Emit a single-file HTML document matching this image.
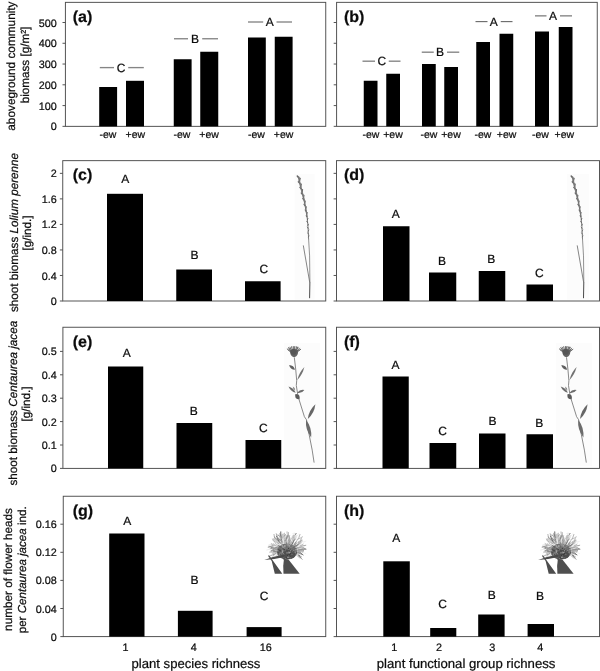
<!DOCTYPE html>
<html><head><meta charset="utf-8"><title>Figure</title>
<style>
html,body{margin:0;padding:0;background:#fff;}
body{width:600px;height:671px;overflow:hidden;font-family:"Liberation Sans", sans-serif;}
text{stroke:#0c0c0c;stroke-width:0.22px;}
svg{display:block;filter:grayscale(1);font-family:"Liberation Sans", sans-serif;fill:#0c0c0c;text-rendering:geometricPrecision;}
</style></head><body>
<svg width="600" height="671" viewBox="0 0 600 671">
<rect x="0" y="0" width="600" height="671" fill="#fff"/>
<rect x="65.4" y="2.35" width="260.35" height="124.0" fill="none" stroke="#4c4c4c" stroke-width="0.95"/>
<line x1="62.50000000000001" y1="126.35" x2="65.4" y2="126.35" stroke="#4c4c4c" stroke-width="0.95"/>
<text x="56.70" y="130.40" font-size="10.8" text-anchor="end" font-weight="normal" >0</text>
<line x1="62.50000000000001" y1="105.58" x2="65.4" y2="105.58" stroke="#4c4c4c" stroke-width="0.95"/>
<text x="56.70" y="109.63" font-size="10.8" text-anchor="end" font-weight="normal" >100</text>
<line x1="62.50000000000001" y1="84.81" x2="65.4" y2="84.81" stroke="#4c4c4c" stroke-width="0.95"/>
<text x="56.70" y="88.86" font-size="10.8" text-anchor="end" font-weight="normal" >200</text>
<line x1="62.50000000000001" y1="64.03999999999999" x2="65.4" y2="64.03999999999999" stroke="#4c4c4c" stroke-width="0.95"/>
<text x="56.70" y="68.09" font-size="10.8" text-anchor="end" font-weight="normal" >300</text>
<line x1="62.50000000000001" y1="43.269999999999996" x2="65.4" y2="43.269999999999996" stroke="#4c4c4c" stroke-width="0.95"/>
<text x="56.70" y="47.32" font-size="10.8" text-anchor="end" font-weight="normal" >400</text>
<line x1="62.50000000000001" y1="22.5" x2="65.4" y2="22.5" stroke="#4c4c4c" stroke-width="0.95"/>
<text x="56.70" y="26.55" font-size="10.8" text-anchor="end" font-weight="normal" >500</text>
<text x="72.70" y="21.65" font-size="16" text-anchor="start" font-weight="bold" >(a)</text>
<rect x="99.20" y="87.00" width="17.90" height="39.35" fill="#000"/>
<rect x="126.00" y="80.80" width="18.00" height="45.55" fill="#000"/>
<rect x="173.75" y="59.25" width="17.85" height="67.10" fill="#000"/>
<rect x="200.25" y="51.75" width="18.00" height="74.60" fill="#000"/>
<rect x="248.00" y="37.50" width="17.80" height="88.85" fill="#000"/>
<rect x="274.75" y="36.75" width="17.85" height="89.60" fill="#000"/>
<text x="107.90" y="138.00" font-size="10.5" text-anchor="middle" font-weight="normal" >-ew</text>
<text x="135.30" y="138.00" font-size="10.5" text-anchor="middle" font-weight="normal" >+ew</text>
<text x="181.90" y="138.00" font-size="10.5" text-anchor="middle" font-weight="normal" >-ew</text>
<text x="209.10" y="138.00" font-size="10.5" text-anchor="middle" font-weight="normal" >+ew</text>
<text x="256.40" y="138.00" font-size="10.5" text-anchor="middle" font-weight="normal" >-ew</text>
<text x="283.60" y="138.00" font-size="10.5" text-anchor="middle" font-weight="normal" >+ew</text>
<text x="121.00" y="71.90" font-size="12" text-anchor="middle" font-weight="normal" >C</text>
<line x1="99.8" y1="67.6" x2="114" y2="67.6" stroke="#858585" stroke-width="1.35"/>
<line x1="128.2" y1="67.6" x2="143.8" y2="67.6" stroke="#858585" stroke-width="1.35"/>
<text x="195.00" y="43.05" font-size="12" text-anchor="middle" font-weight="normal" >B</text>
<line x1="174" y1="38.75" x2="188" y2="38.75" stroke="#858585" stroke-width="1.35"/>
<line x1="202.2" y1="38.75" x2="218" y2="38.75" stroke="#858585" stroke-width="1.35"/>
<text x="269.75" y="26.30" font-size="12" text-anchor="middle" font-weight="normal" >A</text>
<line x1="248" y1="22.0" x2="263.2" y2="22.0" stroke="#858585" stroke-width="1.35"/>
<line x1="276.5" y1="22.0" x2="292" y2="22.0" stroke="#858585" stroke-width="1.35"/>
<rect x="336.6" y="2.35" width="260.65" height="124.0" fill="none" stroke="#4c4c4c" stroke-width="0.95"/>
<line x1="333.70000000000005" y1="126.35" x2="336.6" y2="126.35" stroke="#4c4c4c" stroke-width="0.95"/>
<line x1="333.70000000000005" y1="105.58" x2="336.6" y2="105.58" stroke="#4c4c4c" stroke-width="0.95"/>
<line x1="333.70000000000005" y1="84.81" x2="336.6" y2="84.81" stroke="#4c4c4c" stroke-width="0.95"/>
<line x1="333.70000000000005" y1="64.03999999999999" x2="336.6" y2="64.03999999999999" stroke="#4c4c4c" stroke-width="0.95"/>
<line x1="333.70000000000005" y1="43.269999999999996" x2="336.6" y2="43.269999999999996" stroke="#4c4c4c" stroke-width="0.95"/>
<line x1="333.70000000000005" y1="22.5" x2="336.6" y2="22.5" stroke="#4c4c4c" stroke-width="0.95"/>
<text x="343.90" y="21.65" font-size="16" text-anchor="start" font-weight="bold" >(b)</text>
<rect x="363.75" y="80.75" width="13.75" height="45.60" fill="#000"/>
<rect x="386.25" y="73.75" width="13.75" height="52.60" fill="#000"/>
<rect x="422.00" y="64.00" width="13.75" height="62.35" fill="#000"/>
<rect x="444.25" y="67.00" width="13.75" height="59.35" fill="#000"/>
<rect x="476.25" y="42.00" width="13.75" height="84.35" fill="#000"/>
<rect x="499.50" y="33.75" width="13.75" height="92.60" fill="#000"/>
<rect x="535.00" y="31.50" width="14.00" height="94.85" fill="#000"/>
<rect x="558.75" y="27.00" width="13.75" height="99.35" fill="#000"/>
<text x="371.00" y="138.00" font-size="10.5" text-anchor="middle" font-weight="normal" >-ew</text>
<text x="393.00" y="138.00" font-size="10.5" text-anchor="middle" font-weight="normal" >+ew</text>
<text x="429.00" y="138.00" font-size="10.5" text-anchor="middle" font-weight="normal" >-ew</text>
<text x="451.00" y="138.00" font-size="10.5" text-anchor="middle" font-weight="normal" >+ew</text>
<text x="483.00" y="138.00" font-size="10.5" text-anchor="middle" font-weight="normal" >-ew</text>
<text x="506.60" y="138.00" font-size="10.5" text-anchor="middle" font-weight="normal" >+ew</text>
<text x="540.40" y="138.00" font-size="10.5" text-anchor="middle" font-weight="normal" >-ew</text>
<text x="564.40" y="138.00" font-size="10.5" text-anchor="middle" font-weight="normal" >+ew</text>
<text x="381.75" y="65.05" font-size="12" text-anchor="middle" font-weight="normal" >C</text>
<line x1="362.5" y1="61.15" x2="375" y2="61.15" stroke="#585858" stroke-width="1.0"/>
<line x1="388.75" y1="61.15" x2="400.5" y2="61.15" stroke="#585858" stroke-width="1.0"/>
<text x="440.00" y="56.05" font-size="12" text-anchor="middle" font-weight="normal" >B</text>
<line x1="421.75" y1="52.15" x2="433.75" y2="52.15" stroke="#585858" stroke-width="1.0"/>
<line x1="447" y1="52.15" x2="459.25" y2="52.15" stroke="#585858" stroke-width="1.0"/>
<text x="493.75" y="25.55" font-size="12" text-anchor="middle" font-weight="normal" >A</text>
<line x1="475.5" y1="21.65" x2="487.5" y2="21.65" stroke="#585858" stroke-width="1.0"/>
<line x1="500.75" y1="21.65" x2="512.5" y2="21.65" stroke="#585858" stroke-width="1.0"/>
<text x="553.00" y="19.80" font-size="12" text-anchor="middle" font-weight="normal" >A</text>
<line x1="535" y1="15.9" x2="546.5" y2="15.9" stroke="#585858" stroke-width="1.0"/>
<line x1="560" y1="15.9" x2="572" y2="15.9" stroke="#585858" stroke-width="1.0"/>
<rect x="62.75" y="160.65" width="263.0" height="140.35" fill="none" stroke="#4c4c4c" stroke-width="0.95"/>
<line x1="59.85" y1="301.0" x2="62.75" y2="301.0" stroke="#4c4c4c" stroke-width="0.95"/>
<text x="56.70" y="305.05" font-size="10.8" text-anchor="end" font-weight="normal" >0</text>
<line x1="59.85" y1="275.47" x2="62.75" y2="275.47" stroke="#4c4c4c" stroke-width="0.95"/>
<text x="56.70" y="279.52" font-size="10.8" text-anchor="end" font-weight="normal" >0.4</text>
<line x1="59.85" y1="249.94" x2="62.75" y2="249.94" stroke="#4c4c4c" stroke-width="0.95"/>
<text x="56.70" y="253.99" font-size="10.8" text-anchor="end" font-weight="normal" >0.8</text>
<line x1="59.85" y1="224.41" x2="62.75" y2="224.41" stroke="#4c4c4c" stroke-width="0.95"/>
<text x="56.70" y="228.46" font-size="10.8" text-anchor="end" font-weight="normal" >1.2</text>
<line x1="59.85" y1="198.88" x2="62.75" y2="198.88" stroke="#4c4c4c" stroke-width="0.95"/>
<text x="56.70" y="202.93" font-size="10.8" text-anchor="end" font-weight="normal" >1.6</text>
<line x1="59.85" y1="173.35" x2="62.75" y2="173.35" stroke="#4c4c4c" stroke-width="0.95"/>
<text x="56.70" y="177.40" font-size="10.8" text-anchor="end" font-weight="normal" >2</text>
<text x="72.70" y="179.95" font-size="16" text-anchor="start" font-weight="bold" >(c)</text>
<rect x="107.00" y="193.80" width="36.00" height="107.20" fill="#000"/>
<rect x="176.25" y="269.50" width="35.75" height="31.50" fill="#000"/>
<rect x="245.00" y="281.25" width="35.60" height="19.75" fill="#000"/>
<text x="125.20" y="183.20" font-size="12" text-anchor="middle" font-weight="normal" >A</text>
<text x="194.50" y="259.10" font-size="12" text-anchor="middle" font-weight="normal" >B</text>
<text x="263.75" y="272.60" font-size="12" text-anchor="middle" font-weight="normal" >C</text>
<rect x="336.5" y="160.65" width="263.0" height="140.35" fill="none" stroke="#4c4c4c" stroke-width="0.95"/>
<line x1="333.6" y1="301.0" x2="336.5" y2="301.0" stroke="#4c4c4c" stroke-width="0.95"/>
<line x1="333.6" y1="275.47" x2="336.5" y2="275.47" stroke="#4c4c4c" stroke-width="0.95"/>
<line x1="333.6" y1="249.94" x2="336.5" y2="249.94" stroke="#4c4c4c" stroke-width="0.95"/>
<line x1="333.6" y1="224.41" x2="336.5" y2="224.41" stroke="#4c4c4c" stroke-width="0.95"/>
<line x1="333.6" y1="198.88" x2="336.5" y2="198.88" stroke="#4c4c4c" stroke-width="0.95"/>
<line x1="333.6" y1="173.35" x2="336.5" y2="173.35" stroke="#4c4c4c" stroke-width="0.95"/>
<text x="343.90" y="179.95" font-size="16" text-anchor="start" font-weight="bold" >(d)</text>
<rect x="383.00" y="226.25" width="26.50" height="74.75" fill="#000"/>
<rect x="429.00" y="272.50" width="27.25" height="28.50" fill="#000"/>
<rect x="478.75" y="271.00" width="26.50" height="30.00" fill="#000"/>
<rect x="526.50" y="284.50" width="26.50" height="16.50" fill="#000"/>
<text x="395.75" y="217.85" font-size="12" text-anchor="middle" font-weight="normal" >A</text>
<text x="442.00" y="264.85" font-size="12" text-anchor="middle" font-weight="normal" >B</text>
<text x="491.25" y="262.85" font-size="12" text-anchor="middle" font-weight="normal" >B</text>
<text x="539.25" y="277.35" font-size="12" text-anchor="middle" font-weight="normal" >C</text>
<rect x="62.9" y="327.25" width="262.85" height="141.14999999999998" fill="none" stroke="#4c4c4c" stroke-width="0.95"/>
<line x1="60.0" y1="468.4" x2="62.9" y2="468.4" stroke="#4c4c4c" stroke-width="0.95"/>
<text x="56.70" y="472.45" font-size="10.8" text-anchor="end" font-weight="normal" >0</text>
<line x1="60.0" y1="445.0" x2="62.9" y2="445.0" stroke="#4c4c4c" stroke-width="0.95"/>
<text x="56.70" y="449.05" font-size="10.8" text-anchor="end" font-weight="normal" >0.1</text>
<line x1="60.0" y1="421.59999999999997" x2="62.9" y2="421.59999999999997" stroke="#4c4c4c" stroke-width="0.95"/>
<text x="56.70" y="425.65" font-size="10.8" text-anchor="end" font-weight="normal" >0.2</text>
<line x1="60.0" y1="398.2" x2="62.9" y2="398.2" stroke="#4c4c4c" stroke-width="0.95"/>
<text x="56.70" y="402.25" font-size="10.8" text-anchor="end" font-weight="normal" >0.3</text>
<line x1="60.0" y1="374.79999999999995" x2="62.9" y2="374.79999999999995" stroke="#4c4c4c" stroke-width="0.95"/>
<text x="56.70" y="378.85" font-size="10.8" text-anchor="end" font-weight="normal" >0.4</text>
<line x1="60.0" y1="351.4" x2="62.9" y2="351.4" stroke="#4c4c4c" stroke-width="0.95"/>
<text x="56.70" y="355.45" font-size="10.8" text-anchor="end" font-weight="normal" >0.5</text>
<text x="72.70" y="346.95" font-size="16" text-anchor="start" font-weight="bold" >(e)</text>
<rect x="108.00" y="366.50" width="35.25" height="101.90" fill="#000"/>
<rect x="176.50" y="423.00" width="35.75" height="45.40" fill="#000"/>
<rect x="245.50" y="440.00" width="35.75" height="28.40" fill="#000"/>
<text x="126.75" y="357.35" font-size="12" text-anchor="middle" font-weight="normal" >A</text>
<text x="193.75" y="414.85" font-size="12" text-anchor="middle" font-weight="normal" >B</text>
<text x="263.25" y="431.85" font-size="12" text-anchor="middle" font-weight="normal" >C</text>
<rect x="336.5" y="327.25" width="263.0" height="141.14999999999998" fill="none" stroke="#4c4c4c" stroke-width="0.95"/>
<line x1="333.6" y1="468.4" x2="336.5" y2="468.4" stroke="#4c4c4c" stroke-width="0.95"/>
<line x1="333.6" y1="445.0" x2="336.5" y2="445.0" stroke="#4c4c4c" stroke-width="0.95"/>
<line x1="333.6" y1="421.59999999999997" x2="336.5" y2="421.59999999999997" stroke="#4c4c4c" stroke-width="0.95"/>
<line x1="333.6" y1="398.2" x2="336.5" y2="398.2" stroke="#4c4c4c" stroke-width="0.95"/>
<line x1="333.6" y1="374.79999999999995" x2="336.5" y2="374.79999999999995" stroke="#4c4c4c" stroke-width="0.95"/>
<line x1="333.6" y1="351.4" x2="336.5" y2="351.4" stroke="#4c4c4c" stroke-width="0.95"/>
<text x="343.90" y="346.95" font-size="16" text-anchor="start" font-weight="bold" >(f)</text>
<rect x="382.50" y="376.50" width="26.25" height="91.90" fill="#000"/>
<rect x="429.50" y="443.00" width="26.75" height="25.40" fill="#000"/>
<rect x="479.00" y="433.50" width="26.50" height="34.90" fill="#000"/>
<rect x="526.50" y="434.25" width="26.50" height="34.15" fill="#000"/>
<text x="395.50" y="368.60" font-size="12" text-anchor="middle" font-weight="normal" >A</text>
<text x="442.50" y="434.85" font-size="12" text-anchor="middle" font-weight="normal" >C</text>
<text x="492.50" y="424.85" font-size="12" text-anchor="middle" font-weight="normal" >B</text>
<text x="539.25" y="426.60" font-size="12" text-anchor="middle" font-weight="normal" >B</text>
<rect x="63.25" y="496.25" width="262.5" height="140.35000000000002" fill="none" stroke="#4c4c4c" stroke-width="0.95"/>
<line x1="60.35" y1="636.6" x2="63.25" y2="636.6" stroke="#4c4c4c" stroke-width="0.95"/>
<text x="56.70" y="640.65" font-size="10.8" text-anchor="end" font-weight="normal" >0</text>
<line x1="60.35" y1="608.5" x2="63.25" y2="608.5" stroke="#4c4c4c" stroke-width="0.95"/>
<text x="56.70" y="612.55" font-size="10.8" text-anchor="end" font-weight="normal" >0.04</text>
<line x1="60.35" y1="580.4" x2="63.25" y2="580.4" stroke="#4c4c4c" stroke-width="0.95"/>
<text x="56.70" y="584.45" font-size="10.8" text-anchor="end" font-weight="normal" >0.08</text>
<line x1="60.35" y1="552.3000000000001" x2="63.25" y2="552.3000000000001" stroke="#4c4c4c" stroke-width="0.95"/>
<text x="56.70" y="556.35" font-size="10.8" text-anchor="end" font-weight="normal" >0.12</text>
<line x1="60.35" y1="524.2" x2="63.25" y2="524.2" stroke="#4c4c4c" stroke-width="0.95"/>
<text x="56.70" y="528.25" font-size="10.8" text-anchor="end" font-weight="normal" >0.16</text>
<text x="72.70" y="516.45" font-size="16" text-anchor="start" font-weight="bold" >(g)</text>
<rect x="109.20" y="533.50" width="35.30" height="103.10" fill="#000"/>
<rect x="177.90" y="610.80" width="34.70" height="25.80" fill="#000"/>
<rect x="246.60" y="627.10" width="35.00" height="9.50" fill="#000"/>
<text x="127.30" y="525.30" font-size="12" text-anchor="middle" font-weight="normal" >A</text>
<text x="194.50" y="583.60" font-size="12" text-anchor="middle" font-weight="normal" >B</text>
<text x="264.00" y="600.30" font-size="12" text-anchor="middle" font-weight="normal" >C</text>
<text x="125.60" y="651.40" font-size="10.8" text-anchor="middle" font-weight="normal" >1</text>
<text x="193.70" y="651.40" font-size="10.8" text-anchor="middle" font-weight="normal" >4</text>
<text x="265.80" y="651.40" font-size="10.8" text-anchor="middle" font-weight="normal" >16</text>
<text x="196.00" y="667.50" font-size="13.1" text-anchor="middle" font-weight="normal" >plant species richness</text>
<rect x="336.5" y="496.25" width="263.0" height="140.35000000000002" fill="none" stroke="#4c4c4c" stroke-width="0.95"/>
<line x1="333.6" y1="636.6" x2="336.5" y2="636.6" stroke="#4c4c4c" stroke-width="0.95"/>
<line x1="333.6" y1="608.5" x2="336.5" y2="608.5" stroke="#4c4c4c" stroke-width="0.95"/>
<line x1="333.6" y1="580.4" x2="336.5" y2="580.4" stroke="#4c4c4c" stroke-width="0.95"/>
<line x1="333.6" y1="552.3000000000001" x2="336.5" y2="552.3000000000001" stroke="#4c4c4c" stroke-width="0.95"/>
<line x1="333.6" y1="524.2" x2="336.5" y2="524.2" stroke="#4c4c4c" stroke-width="0.95"/>
<text x="343.90" y="516.45" font-size="16" text-anchor="start" font-weight="bold" >(h)</text>
<rect x="383.30" y="561.30" width="26.50" height="75.30" fill="#000"/>
<rect x="430.20" y="628.00" width="26.10" height="8.60" fill="#000"/>
<rect x="478.20" y="614.50" width="26.40" height="22.10" fill="#000"/>
<rect x="527.60" y="624.00" width="26.40" height="12.60" fill="#000"/>
<text x="396.30" y="541.90" font-size="12" text-anchor="middle" font-weight="normal" >A</text>
<text x="442.50" y="608.00" font-size="12" text-anchor="middle" font-weight="normal" >C</text>
<text x="491.70" y="598.60" font-size="12" text-anchor="middle" font-weight="normal" >B</text>
<text x="540.00" y="600.30" font-size="12" text-anchor="middle" font-weight="normal" >B</text>
<text x="394.30" y="651.40" font-size="10.8" text-anchor="middle" font-weight="normal" >1</text>
<text x="439.00" y="651.40" font-size="10.8" text-anchor="middle" font-weight="normal" >2</text>
<text x="492.20" y="651.40" font-size="10.8" text-anchor="middle" font-weight="normal" >3</text>
<text x="540.20" y="651.40" font-size="10.8" text-anchor="middle" font-weight="normal" >4</text>
<text x="466.10" y="667.50" font-size="13.18" text-anchor="middle" font-weight="normal" >plant functional group richness</text>
<text transform="translate(15.00,66.10) rotate(-90)" font-size="11.8" text-anchor="middle">aboveground community</text>
<text transform="translate(29.40,65.00) rotate(-90)" font-size="11.7" text-anchor="middle">biomass [g/m²]</text>
<text transform="translate(17.70,232.50) rotate(-90)" font-size="11.7" text-anchor="middle">shoot biomass <tspan font-style="italic">Lolium perenne</tspan></text>
<text transform="translate(30.60,233.00) rotate(-90)" font-size="11.6" text-anchor="middle">[g/ind.]</text>
<text transform="translate(16.80,403.20) rotate(-90)" font-size="11.73" text-anchor="middle">shoot biomass <tspan font-style="italic">Centaurea jacea</tspan></text>
<text transform="translate(30.20,404.00) rotate(-90)" font-size="11.6" text-anchor="middle">[g/ind.]</text>
<text transform="translate(11.50,569.50) rotate(-90)" font-size="11.75" text-anchor="middle">number of flower heads</text>
<text transform="translate(26.20,569.80) rotate(-90)" font-size="11.6" text-anchor="middle">per <tspan font-style="italic">Centaurea jacea</tspan> ind.</text>
<rect x="567" y="174" width="22" height="125.5" fill="#fcfcfc"/>
<rect x="294.6" y="174" width="20.0" height="125.5" fill="#fcfcfc"/>
<rect x="556" y="343" width="36" height="123" fill="#fcfcfc"/>
<rect x="283.8" y="343" width="36.0" height="123" fill="#fcfcfc"/>
<defs><filter id="soft2" x="-30%" y="-5%" width="160%" height="110%"><feGaussianBlur stdDeviation="0.3"/></filter></defs>
<g filter="url(#soft2)"><path d="M572.6,177.2 L573.6,182.5 L575.7,190.9 L577.8,199.2 L579.3,206.6 L580.9,216.0 L581.9,226.4 L582.5,238.9" stroke="#6e6e6e" stroke-width="0.9" fill="none" stroke-linecap="round"/>
<path d="M582.5,238.9 L583.5,255.9 L583.8,282.0" stroke="#777" stroke-width="0.8" fill="none"/>
<path d="M583.8,282.0 L583.5,298.2" stroke="#4a4a4a" stroke-width="1" fill="none"/>
<path d="M577.2,245.4 L583.6,282.2" stroke="#666" stroke-width="0.8" fill="none"/>
<path d="M572.8,178.0 L571.2,176.0" stroke="#666" stroke-width="1.50" fill="none" stroke-linecap="round"/>
<path d="M573.3,180.8 L574.0,178.4" stroke="#666" stroke-width="1.47" fill="none" stroke-linecap="round"/>
<path d="M573.9,183.6 L572.3,181.8" stroke="#666" stroke-width="1.43" fill="none" stroke-linecap="round"/>
<path d="M574.6,186.4 L575.1,184.1" stroke="#666" stroke-width="1.40" fill="none" stroke-linecap="round"/>
<path d="M575.3,189.1 L573.8,187.4" stroke="#666" stroke-width="1.36" fill="none" stroke-linecap="round"/>
<path d="M576.0,191.9 L576.4,189.7" stroke="#666" stroke-width="1.33" fill="none" stroke-linecap="round"/>
<path d="M576.7,194.7 L575.2,193.0" stroke="#666" stroke-width="1.30" fill="none" stroke-linecap="round"/>
<path d="M577.4,197.4 L577.8,195.4" stroke="#666" stroke-width="1.26" fill="none" stroke-linecap="round"/>
<path d="M578.0,200.2 L576.7,198.6" stroke="#666" stroke-width="1.23" fill="none" stroke-linecap="round"/>
<path d="M578.6,203.0 L579.1,201.1" stroke="#666" stroke-width="1.19" fill="none" stroke-linecap="round"/>
<path d="M579.1,205.8 L577.9,204.3" stroke="#666" stroke-width="1.16" fill="none" stroke-linecap="round"/>
<path d="M579.6,208.6 L580.2,206.8" stroke="#666" stroke-width="1.12" fill="none" stroke-linecap="round"/>
<path d="M580.1,211.4 L579.1,209.9" stroke="#666" stroke-width="1.09" fill="none" stroke-linecap="round"/>
<path d="M580.6,214.2 L581.1,212.5" stroke="#666" stroke-width="1.06" fill="none" stroke-linecap="round"/>
<path d="M581.0,217.0 L580.1,215.6" stroke="#666" stroke-width="1.02" fill="none" stroke-linecap="round"/>
<path d="M581.3,219.9 L581.8,218.4" stroke="#666" stroke-width="0.99" fill="none" stroke-linecap="round"/>
<path d="M581.5,222.7 L580.7,221.4" stroke="#666" stroke-width="0.95" fill="none" stroke-linecap="round"/>
<path d="M581.8,225.5 L582.3,224.2" stroke="#666" stroke-width="0.92" fill="none" stroke-linecap="round"/>
<path d="M582.0,228.4 L581.3,227.1" stroke="#666" stroke-width="0.89" fill="none" stroke-linecap="round"/>
<path d="M582.1,231.2 L582.7,230.0" stroke="#666" stroke-width="0.85" fill="none" stroke-linecap="round"/>
<path d="M582.3,234.1 L581.6,232.9" stroke="#666" stroke-width="0.82" fill="none" stroke-linecap="round"/>
<path d="M582.4,236.9 L582.9,235.8" stroke="#666" stroke-width="0.78" fill="none" stroke-linecap="round"/>
<path d="M572.6,177.2 L573.6,182.5 L575.7,190.9 L577.8,199.2" stroke="#7c7c7c" stroke-width="1.7" fill="none" stroke-linecap="round" opacity="0.7"/>
<path d="M577.8,199.2 L579.3,206.6 L580.9,216.0" stroke="#777" stroke-width="1.3" fill="none" stroke-linecap="round" opacity="0.7"/></g>
<g transform="translate(-273.9,0)" filter="url(#soft2)"><path d="M572.6,177.2 L573.6,182.5 L575.7,190.9 L577.8,199.2 L579.3,206.6 L580.9,216.0 L581.9,226.4 L582.5,238.9" stroke="#6e6e6e" stroke-width="0.9" fill="none" stroke-linecap="round"/>
<path d="M582.5,238.9 L583.5,255.9 L583.8,282.0" stroke="#777" stroke-width="0.8" fill="none"/>
<path d="M583.8,282.0 L583.5,298.2" stroke="#4a4a4a" stroke-width="1" fill="none"/>
<path d="M577.2,245.4 L583.6,282.2" stroke="#666" stroke-width="0.8" fill="none"/>
<path d="M572.8,178.0 L571.2,176.0" stroke="#666" stroke-width="1.50" fill="none" stroke-linecap="round"/>
<path d="M573.3,180.8 L574.0,178.4" stroke="#666" stroke-width="1.47" fill="none" stroke-linecap="round"/>
<path d="M573.9,183.6 L572.3,181.8" stroke="#666" stroke-width="1.43" fill="none" stroke-linecap="round"/>
<path d="M574.6,186.4 L575.1,184.1" stroke="#666" stroke-width="1.40" fill="none" stroke-linecap="round"/>
<path d="M575.3,189.1 L573.8,187.4" stroke="#666" stroke-width="1.36" fill="none" stroke-linecap="round"/>
<path d="M576.0,191.9 L576.4,189.7" stroke="#666" stroke-width="1.33" fill="none" stroke-linecap="round"/>
<path d="M576.7,194.7 L575.2,193.0" stroke="#666" stroke-width="1.30" fill="none" stroke-linecap="round"/>
<path d="M577.4,197.4 L577.8,195.4" stroke="#666" stroke-width="1.26" fill="none" stroke-linecap="round"/>
<path d="M578.0,200.2 L576.7,198.6" stroke="#666" stroke-width="1.23" fill="none" stroke-linecap="round"/>
<path d="M578.6,203.0 L579.1,201.1" stroke="#666" stroke-width="1.19" fill="none" stroke-linecap="round"/>
<path d="M579.1,205.8 L577.9,204.3" stroke="#666" stroke-width="1.16" fill="none" stroke-linecap="round"/>
<path d="M579.6,208.6 L580.2,206.8" stroke="#666" stroke-width="1.12" fill="none" stroke-linecap="round"/>
<path d="M580.1,211.4 L579.1,209.9" stroke="#666" stroke-width="1.09" fill="none" stroke-linecap="round"/>
<path d="M580.6,214.2 L581.1,212.5" stroke="#666" stroke-width="1.06" fill="none" stroke-linecap="round"/>
<path d="M581.0,217.0 L580.1,215.6" stroke="#666" stroke-width="1.02" fill="none" stroke-linecap="round"/>
<path d="M581.3,219.9 L581.8,218.4" stroke="#666" stroke-width="0.99" fill="none" stroke-linecap="round"/>
<path d="M581.5,222.7 L580.7,221.4" stroke="#666" stroke-width="0.95" fill="none" stroke-linecap="round"/>
<path d="M581.8,225.5 L582.3,224.2" stroke="#666" stroke-width="0.92" fill="none" stroke-linecap="round"/>
<path d="M582.0,228.4 L581.3,227.1" stroke="#666" stroke-width="0.89" fill="none" stroke-linecap="round"/>
<path d="M582.1,231.2 L582.7,230.0" stroke="#666" stroke-width="0.85" fill="none" stroke-linecap="round"/>
<path d="M582.3,234.1 L581.6,232.9" stroke="#666" stroke-width="0.82" fill="none" stroke-linecap="round"/>
<path d="M582.4,236.9 L582.9,235.8" stroke="#666" stroke-width="0.78" fill="none" stroke-linecap="round"/>
<path d="M572.6,177.2 L573.6,182.5 L575.7,190.9 L577.8,199.2" stroke="#7c7c7c" stroke-width="1.7" fill="none" stroke-linecap="round" opacity="0.7"/>
<path d="M577.8,199.2 L579.3,206.6 L580.9,216.0" stroke="#777" stroke-width="1.3" fill="none" stroke-linecap="round" opacity="0.7"/></g>
<g filter="url(#soft2)"><path d="M566.5,357.4 L567.9,369.0 L568.9,380.7 L568.5,385.5 L569.9,394.3 L571.4,400.0 L576.6,416.7 L578.7,419.8 L581.3,434.4 L584.4,450.1 L586.3,462.6" stroke="#747474" stroke-width="0.85" fill="none" stroke-linejoin="round"/>
<path d="M561.3,364.9 Q562.4,369.6 567.2,369.8 Q566.1,365.1 561.3,364.9Z" fill="#5e5e5e" stroke="none"/>
<path d="M569.4,380.2 Q574.8,374.6 576.6,367.1 Q571.2,372.7 569.4,380.2Z" fill="#727272" stroke="none"/>
<path d="M560.7,386.5 Q562.8,391.4 567.9,392.8 Q565.8,387.9 560.7,386.5Z" fill="#6c6c6c" stroke="none"/>
<path d="M565.0,386.5 Q564.8,389.3 567.4,390.4 Q567.6,387.6 565.0,386.5Z" fill="#8a8a8a" stroke="none"/>
<path d="M569.4,392.8 Q573.9,393.7 576.6,389.9 Q572.1,389.0 569.4,392.8Z" fill="#6c6c6c" stroke="none"/>
<path d="M567.6,394.0 Q566.2,399.2 571.6,399.3 Q573.0,394.1 567.6,394.0Z" fill="#5a5a5a" stroke="none"/>
<path d="M580.0,419.0 Q586.6,413.1 587.6,404.2 Q581.0,410.1 580.0,419.0Z" fill="#666" stroke="none"/>
<path d="M578.2,419.8 Q577.3,429.7 583.4,437.6 Q584.3,427.7 578.2,419.8Z" fill="#6c6c6c" stroke="none"/>
<path d="M563.0,352.0 L559.4,348.9" stroke="#6c6c6c" stroke-width="1.0" fill="none" stroke-linecap="round"/>
<path d="M563.7,352.0 L560.8,347.6" stroke="#6c6c6c" stroke-width="1.0" fill="none" stroke-linecap="round"/>
<path d="M564.3,352.0 L562.2,347.2" stroke="#6c6c6c" stroke-width="1.0" fill="none" stroke-linecap="round"/>
<path d="M565.0,352.0 L563.7,346.7" stroke="#6c6c6c" stroke-width="1.0" fill="none" stroke-linecap="round"/>
<path d="M565.7,352.0 L565.4,346.5" stroke="#6c6c6c" stroke-width="1.0" fill="none" stroke-linecap="round"/>
<path d="M566.5,352.0 L567.1,346.5" stroke="#6c6c6c" stroke-width="1.0" fill="none" stroke-linecap="round"/>
<path d="M567.3,352.0 L568.8,346.7" stroke="#6c6c6c" stroke-width="1.0" fill="none" stroke-linecap="round"/>
<path d="M567.9,352.0 L570.3,347.3" stroke="#6c6c6c" stroke-width="1.0" fill="none" stroke-linecap="round"/>
<path d="M568.5,352.0 L571.6,348.2" stroke="#6c6c6c" stroke-width="1.0" fill="none" stroke-linecap="round"/>
<path d="M569.1,352.0 L572.9,349.3" stroke="#6c6c6c" stroke-width="1.0" fill="none" stroke-linecap="round"/>
<path d="M563.9,352.0 L561.4,348.6" stroke="#6c6c6c" stroke-width="1.0" fill="none" stroke-linecap="round"/>
<path d="M566.1,352.0 L566.3,346.9" stroke="#6c6c6c" stroke-width="1.0" fill="none" stroke-linecap="round"/>
<path d="M567.7,352.0 L569.7,347.2" stroke="#6c6c6c" stroke-width="1.0" fill="none" stroke-linecap="round"/>
<path d="M568.8,352.0 L572.2,349.8" stroke="#6c6c6c" stroke-width="1.0" fill="none" stroke-linecap="round"/>
<path d="M563.4,352.0 L560.2,349.9" stroke="#6c6c6c" stroke-width="1.0" fill="none" stroke-linecap="round"/>
<path d="M562.2,350.2 Q562.0,356.4 566.3,357.3 Q570.6,356.4 570.4,350.2 Q566.3,348.4 562.2,350.2Z" fill="#626262"/>
<ellipse cx="565.8" cy="351.8" rx="3.0" ry="2.9" fill="#545454"/></g>
<g transform="translate(-272.2,0)" filter="url(#soft2)"><path d="M566.5,357.4 L567.9,369.0 L568.9,380.7 L568.5,385.5 L569.9,394.3 L571.4,400.0 L576.6,416.7 L578.7,419.8 L581.3,434.4 L584.4,450.1 L586.3,462.6" stroke="#747474" stroke-width="0.85" fill="none" stroke-linejoin="round"/>
<path d="M561.3,364.9 Q562.4,369.6 567.2,369.8 Q566.1,365.1 561.3,364.9Z" fill="#5e5e5e" stroke="none"/>
<path d="M569.4,380.2 Q574.8,374.6 576.6,367.1 Q571.2,372.7 569.4,380.2Z" fill="#727272" stroke="none"/>
<path d="M560.7,386.5 Q562.8,391.4 567.9,392.8 Q565.8,387.9 560.7,386.5Z" fill="#6c6c6c" stroke="none"/>
<path d="M565.0,386.5 Q564.8,389.3 567.4,390.4 Q567.6,387.6 565.0,386.5Z" fill="#8a8a8a" stroke="none"/>
<path d="M569.4,392.8 Q573.9,393.7 576.6,389.9 Q572.1,389.0 569.4,392.8Z" fill="#6c6c6c" stroke="none"/>
<path d="M567.6,394.0 Q566.2,399.2 571.6,399.3 Q573.0,394.1 567.6,394.0Z" fill="#5a5a5a" stroke="none"/>
<path d="M580.0,419.0 Q586.6,413.1 587.6,404.2 Q581.0,410.1 580.0,419.0Z" fill="#666" stroke="none"/>
<path d="M578.2,419.8 Q577.3,429.7 583.4,437.6 Q584.3,427.7 578.2,419.8Z" fill="#6c6c6c" stroke="none"/>
<path d="M563.0,352.0 L559.4,348.9" stroke="#6c6c6c" stroke-width="1.0" fill="none" stroke-linecap="round"/>
<path d="M563.7,352.0 L560.8,347.6" stroke="#6c6c6c" stroke-width="1.0" fill="none" stroke-linecap="round"/>
<path d="M564.3,352.0 L562.2,347.2" stroke="#6c6c6c" stroke-width="1.0" fill="none" stroke-linecap="round"/>
<path d="M565.0,352.0 L563.7,346.7" stroke="#6c6c6c" stroke-width="1.0" fill="none" stroke-linecap="round"/>
<path d="M565.7,352.0 L565.4,346.5" stroke="#6c6c6c" stroke-width="1.0" fill="none" stroke-linecap="round"/>
<path d="M566.5,352.0 L567.1,346.5" stroke="#6c6c6c" stroke-width="1.0" fill="none" stroke-linecap="round"/>
<path d="M567.3,352.0 L568.8,346.7" stroke="#6c6c6c" stroke-width="1.0" fill="none" stroke-linecap="round"/>
<path d="M567.9,352.0 L570.3,347.3" stroke="#6c6c6c" stroke-width="1.0" fill="none" stroke-linecap="round"/>
<path d="M568.5,352.0 L571.6,348.2" stroke="#6c6c6c" stroke-width="1.0" fill="none" stroke-linecap="round"/>
<path d="M569.1,352.0 L572.9,349.3" stroke="#6c6c6c" stroke-width="1.0" fill="none" stroke-linecap="round"/>
<path d="M563.9,352.0 L561.4,348.6" stroke="#6c6c6c" stroke-width="1.0" fill="none" stroke-linecap="round"/>
<path d="M566.1,352.0 L566.3,346.9" stroke="#6c6c6c" stroke-width="1.0" fill="none" stroke-linecap="round"/>
<path d="M567.7,352.0 L569.7,347.2" stroke="#6c6c6c" stroke-width="1.0" fill="none" stroke-linecap="round"/>
<path d="M568.8,352.0 L572.2,349.8" stroke="#6c6c6c" stroke-width="1.0" fill="none" stroke-linecap="round"/>
<path d="M563.4,352.0 L560.2,349.9" stroke="#6c6c6c" stroke-width="1.0" fill="none" stroke-linecap="round"/>
<path d="M562.2,350.2 Q562.0,356.4 566.3,357.3 Q570.6,356.4 570.4,350.2 Q566.3,348.4 562.2,350.2Z" fill="#626262"/>
<ellipse cx="565.8" cy="351.8" rx="3.0" ry="2.9" fill="#545454"/></g>
<defs><filter id="soft" x="-10%" y="-10%" width="120%" height="120%"><feGaussianBlur stdDeviation="0.35"/></filter></defs>
<g filter="url(#soft)"><path d="M558.3,537.5 L557.7,533.6" stroke="#e6e6e6" stroke-width="0.54" fill="none" stroke-linecap="round"/>
<path d="M571.8,546.7 L575.3,544.8" stroke="#8a8a8a" stroke-width="0.50" fill="none" stroke-linecap="round"/>
<path d="M567.7,548.8 L575.7,548.1" stroke="#fafafa" stroke-width="0.82" fill="none" stroke-linecap="round"/>
<path d="M569.0,538.9 L568.0,534.7" stroke="#f0f0f0" stroke-width="0.57" fill="none" stroke-linecap="round"/>
<path d="M551.5,553.6 L545.4,554.6" stroke="#fafafa" stroke-width="0.60" fill="none" stroke-linecap="round"/>
<path d="M551.4,554.5 L547.5,555.4" stroke="#f0f0f0" stroke-width="0.87" fill="none" stroke-linecap="round"/>
<path d="M567.2,545.4 L568.7,540.9" stroke="#fff" stroke-width="0.50" fill="none" stroke-linecap="round"/>
<path d="M553.5,551.0 L550.6,550.0" stroke="#969696" stroke-width="0.55" fill="none" stroke-linecap="round"/>
<path d="M574.9,551.3 L577.8,548.5" stroke="#fafafa" stroke-width="0.55" fill="none" stroke-linecap="round"/>
<path d="M566.8,544.2 L568.3,541.5" stroke="#f0f0f0" stroke-width="0.51" fill="none" stroke-linecap="round"/>
<path d="M554.9,547.5 L548.3,544.8" stroke="#cccccc" stroke-width="0.54" fill="none" stroke-linecap="round"/>
<path d="M561.4,537.0 L560.7,531.9" stroke="#bababa" stroke-width="0.66" fill="none" stroke-linecap="round"/>
<path d="M548.5,545.0 L544.9,544.5" stroke="#f0f0f0" stroke-width="0.46" fill="none" stroke-linecap="round"/>
<path d="M548.4,546.5 L542.0,547.2" stroke="#8a8a8a" stroke-width="0.56" fill="none" stroke-linecap="round"/>
<path d="M552.6,545.3 L547.8,544.4" stroke="#7c7c7c" stroke-width="0.55" fill="none" stroke-linecap="round"/>
<path d="M565.4,543.7 L566.6,537.5" stroke="#e6e6e6" stroke-width="0.69" fill="none" stroke-linecap="round"/>
<path d="M563.3,543.3 L566.1,540.3" stroke="#d8d8d8" stroke-width="0.76" fill="none" stroke-linecap="round"/>
<path d="M569.6,544.0 L574.7,541.1" stroke="#bababa" stroke-width="0.89" fill="none" stroke-linecap="round"/>
<path d="M563.9,544.5 L566.7,542.4" stroke="#969696" stroke-width="0.82" fill="none" stroke-linecap="round"/>
<path d="M555.2,538.6 L553.7,534.8" stroke="#f0f0f0" stroke-width="0.81" fill="none" stroke-linecap="round"/>
<path d="M551.3,552.2 L546.7,551.8" stroke="#a2a2a2" stroke-width="0.56" fill="none" stroke-linecap="round"/>
<path d="M568.5,551.6 L573.5,550.4" stroke="#6e6e6e" stroke-width="0.54" fill="none" stroke-linecap="round"/>
<path d="M557.0,544.5 L556.4,539.6" stroke="#aeaeae" stroke-width="0.78" fill="none" stroke-linecap="round"/>
<path d="M566.4,545.5 L566.9,541.9" stroke="#f0f0f0" stroke-width="0.63" fill="none" stroke-linecap="round"/>
<path d="M553.8,543.4 L550.0,542.4" stroke="#a2a2a2" stroke-width="0.61" fill="none" stroke-linecap="round"/>
<path d="M569.9,554.5 L573.4,557.7" stroke="#9e9e9e" stroke-width="0.82" fill="none" stroke-linecap="round"/>
<path d="M550.7,549.9 L547.3,549.4" stroke="#7c7c7c" stroke-width="0.89" fill="none" stroke-linecap="round"/>
<path d="M556.2,537.1 L555.5,532.0" stroke="#bababa" stroke-width="0.64" fill="none" stroke-linecap="round"/>
<path d="M553.7,553.6 L550.6,555.4" stroke="#bababa" stroke-width="0.81" fill="none" stroke-linecap="round"/>
<path d="M555.7,540.1 L555.7,534.6" stroke="#7c7c7c" stroke-width="0.71" fill="none" stroke-linecap="round"/>
<path d="M561.3,544.2 L563.2,541.4" stroke="#7c7c7c" stroke-width="0.70" fill="none" stroke-linecap="round"/>
<path d="M565.0,542.9 L565.4,539.7" stroke="#fafafa" stroke-width="0.76" fill="none" stroke-linecap="round"/>
<path d="M561.6,541.7 L562.1,534.1" stroke="#969696" stroke-width="0.61" fill="none" stroke-linecap="round"/>
<path d="M566.9,543.4 L572.9,539.4" stroke="#f0f0f0" stroke-width="0.56" fill="none" stroke-linecap="round"/>
<path d="M552.8,547.1 L549.3,545.9" stroke="#f0f0f0" stroke-width="0.87" fill="none" stroke-linecap="round"/>
<path d="M568.2,544.5 L570.8,541.6" stroke="#a2a2a2" stroke-width="0.91" fill="none" stroke-linecap="round"/>
<path d="M571.1,548.2 L577.5,547.4" stroke="#d8d8d8" stroke-width="0.94" fill="none" stroke-linecap="round"/>
<path d="M559.6,544.7 L556.0,538.1" stroke="#9e9e9e" stroke-width="0.59" fill="none" stroke-linecap="round"/>
<path d="M554.4,541.0 L550.6,536.1" stroke="#969696" stroke-width="0.46" fill="none" stroke-linecap="round"/>
<path d="M568.4,549.2 L571.6,548.6" stroke="#5e5e5e" stroke-width="0.50" fill="none" stroke-linecap="round"/>
<path d="M562.2,541.8 L561.2,538.3" stroke="#d8d8d8" stroke-width="0.69" fill="none" stroke-linecap="round"/>
<path d="M552.0,548.3 L546.1,547.9" stroke="#a2a2a2" stroke-width="0.84" fill="none" stroke-linecap="round"/>
<path d="M562.7,539.9 L561.4,531.8" stroke="#d8d8d8" stroke-width="0.85" fill="none" stroke-linecap="round"/>
<path d="M572.8,551.2 L575.5,549.0" stroke="#5e5e5e" stroke-width="0.55" fill="none" stroke-linecap="round"/>
<path d="M570.5,550.6 L575.3,550.0" stroke="#d8d8d8" stroke-width="0.92" fill="none" stroke-linecap="round"/>
<path d="M559.7,543.1 L560.6,536.4" stroke="#fafafa" stroke-width="0.91" fill="none" stroke-linecap="round"/>
<path d="M551.6,550.3 L548.1,550.6" stroke="#fff" stroke-width="0.92" fill="none" stroke-linecap="round"/>
<path d="M555.3,547.3 L549.9,545.6" stroke="#aeaeae" stroke-width="0.73" fill="none" stroke-linecap="round"/>
<path d="M567.0,547.9 L571.6,542.3" stroke="#fff" stroke-width="0.47" fill="none" stroke-linecap="round"/>
<path d="M562.7,536.9 L566.6,533.5" stroke="#f0f0f0" stroke-width="0.81" fill="none" stroke-linecap="round"/>
<path d="M575.6,547.2 L580.0,549.1" stroke="#7c7c7c" stroke-width="0.83" fill="none" stroke-linecap="round"/>
<path d="M557.8,538.3 L554.6,534.3" stroke="#cccccc" stroke-width="0.87" fill="none" stroke-linecap="round"/>
<path d="M563.0,542.4 L567.0,536.0" stroke="#969696" stroke-width="0.60" fill="none" stroke-linecap="round"/>
<path d="M552.0,549.7 L546.6,548.9" stroke="#7c7c7c" stroke-width="0.70" fill="none" stroke-linecap="round"/>
<path d="M565.8,540.0 L566.4,537.0" stroke="#fff" stroke-width="0.94" fill="none" stroke-linecap="round"/>
<path d="M553.1,550.6 L546.0,549.6" stroke="#f0f0f0" stroke-width="0.93" fill="none" stroke-linecap="round"/>
<path d="M570.2,551.9 L573.8,551.6" stroke="#d8d8d8" stroke-width="0.92" fill="none" stroke-linecap="round"/>
<path d="M568.7,551.8 L573.6,549.6" stroke="#a2a2a2" stroke-width="0.51" fill="none" stroke-linecap="round"/>
<path d="M568.0,547.7 L571.9,546.3" stroke="#aeaeae" stroke-width="0.81" fill="none" stroke-linecap="round"/>
<path d="M551.5,545.1 L548.0,540.0" stroke="#e6e6e6" stroke-width="0.58" fill="none" stroke-linecap="round"/>
<path d="M551.2,547.2 L546.6,545.6" stroke="#cccccc" stroke-width="0.76" fill="none" stroke-linecap="round"/>
<path d="M562.6,539.8 L561.6,535.6" stroke="#cccccc" stroke-width="0.76" fill="none" stroke-linecap="round"/>
<path d="M572.2,549.1 L577.0,550.3" stroke="#aeaeae" stroke-width="0.75" fill="none" stroke-linecap="round"/>
<path d="M572.4,550.5 L575.9,547.9" stroke="#f0f0f0" stroke-width="0.57" fill="none" stroke-linecap="round"/>
<path d="M566.7,546.6 L571.8,541.6" stroke="#fff" stroke-width="0.80" fill="none" stroke-linecap="round"/>
<path d="M548.0,545.5 L545.1,543.6" stroke="#aeaeae" stroke-width="0.91" fill="none" stroke-linecap="round"/>
<path d="M569.9,553.4 L574.4,554.3" stroke="#fafafa" stroke-width="0.87" fill="none" stroke-linecap="round"/>
<path d="M567.4,548.7 L573.8,546.4" stroke="#f0f0f0" stroke-width="0.73" fill="none" stroke-linecap="round"/>
<path d="M552.9,549.8 L546.9,545.4" stroke="#f0f0f0" stroke-width="0.79" fill="none" stroke-linecap="round"/>
<path d="M564.2,541.0 L563.1,537.3" stroke="#bababa" stroke-width="0.68" fill="none" stroke-linecap="round"/>
<path d="M561.5,540.4 L562.8,537.5" stroke="#d8d8d8" stroke-width="0.55" fill="none" stroke-linecap="round"/>
<path d="M557.6,542.6 L555.7,535.2" stroke="#7c7c7c" stroke-width="0.71" fill="none" stroke-linecap="round"/>
<path d="M547.8,555.0 L542.7,553.8" stroke="#fafafa" stroke-width="0.92" fill="none" stroke-linecap="round"/>
<path d="M563.7,541.4 L566.3,537.3" stroke="#a2a2a2" stroke-width="0.91" fill="none" stroke-linecap="round"/>
<path d="M573.4,542.1 L579.0,541.5" stroke="#f0f0f0" stroke-width="0.72" fill="none" stroke-linecap="round"/>
<path d="M556.9,544.2 L553.8,541.4" stroke="#fff" stroke-width="0.62" fill="none" stroke-linecap="round"/>
<path d="M559.9,543.0 L559.8,537.0" stroke="#969696" stroke-width="0.59" fill="none" stroke-linecap="round"/>
<path d="M568.9,553.0 L574.0,552.3" stroke="#7c7c7c" stroke-width="0.64" fill="none" stroke-linecap="round"/>
<path d="M572.3,555.3 L576.2,559.5" stroke="#6e6e6e" stroke-width="0.51" fill="none" stroke-linecap="round"/>
<path d="M551.3,550.8 L546.0,548.8" stroke="#fafafa" stroke-width="0.64" fill="none" stroke-linecap="round"/>
<path d="M548.4,550.9 L545.0,550.6" stroke="#cccccc" stroke-width="0.73" fill="none" stroke-linecap="round"/>
<path d="M573.0,555.3 L576.1,556.7" stroke="#fff" stroke-width="0.93" fill="none" stroke-linecap="round"/>
<path d="M556.3,541.5 L555.3,533.5" stroke="#cccccc" stroke-width="0.76" fill="none" stroke-linecap="round"/>
<path d="M550.6,552.6 L544.9,552.5" stroke="#aeaeae" stroke-width="0.72" fill="none" stroke-linecap="round"/>
<path d="M560.1,538.8 L561.3,535.4" stroke="#6e6e6e" stroke-width="0.46" fill="none" stroke-linecap="round"/>
<path d="M554.4,547.2 L548.5,543.7" stroke="#f0f0f0" stroke-width="0.61" fill="none" stroke-linecap="round"/>
<path d="M555.9,539.3 L556.0,534.4" stroke="#969696" stroke-width="0.66" fill="none" stroke-linecap="round"/>
<path d="M560.1,542.4 L562.0,536.8" stroke="#9e9e9e" stroke-width="0.90" fill="none" stroke-linecap="round"/>
<path d="M551.7,549.5 L545.0,550.5" stroke="#bababa" stroke-width="0.68" fill="none" stroke-linecap="round"/>
<path d="M551.8,547.2 L548.4,545.9" stroke="#fafafa" stroke-width="0.66" fill="none" stroke-linecap="round"/>
<path d="M565.8,539.4 L569.0,535.6" stroke="#d8d8d8" stroke-width="0.95" fill="none" stroke-linecap="round"/>
<path d="M569.5,552.8 L572.7,555.0" stroke="#fff" stroke-width="0.70" fill="none" stroke-linecap="round"/>
<path d="M571.5,548.8 L577.1,548.4" stroke="#969696" stroke-width="0.77" fill="none" stroke-linecap="round"/>
<path d="M568.1,546.6 L575.8,544.1" stroke="#f0f0f0" stroke-width="0.79" fill="none" stroke-linecap="round"/>
<path d="M564.9,544.2 L564.5,540.6" stroke="#969696" stroke-width="0.72" fill="none" stroke-linecap="round"/>
<path d="M551.2,552.1 L547.5,551.5" stroke="#aeaeae" stroke-width="0.69" fill="none" stroke-linecap="round"/>
<path d="M555.2,542.4 L555.0,538.3" stroke="#fff" stroke-width="0.51" fill="none" stroke-linecap="round"/>
<path d="M573.6,546.2 L577.1,544.1" stroke="#a2a2a2" stroke-width="0.65" fill="none" stroke-linecap="round"/>
<path d="M549.4,548.7 L545.4,548.8" stroke="#fff" stroke-width="0.82" fill="none" stroke-linecap="round"/>
<path d="M569.9,551.8 L573.3,553.5" stroke="#7c7c7c" stroke-width="0.72" fill="none" stroke-linecap="round"/>
<path d="M557.4,538.4 L558.3,533.2" stroke="#6e6e6e" stroke-width="0.49" fill="none" stroke-linecap="round"/>
<path d="M554.1,548.1 L550.6,545.1" stroke="#9e9e9e" stroke-width="0.61" fill="none" stroke-linecap="round"/>
<path d="M571.7,550.2 L576.5,551.8" stroke="#aeaeae" stroke-width="0.80" fill="none" stroke-linecap="round"/>
<path d="M565.2,535.7 L565.8,531.3" stroke="#fff" stroke-width="0.95" fill="none" stroke-linecap="round"/>
<path d="M558.9,538.8 L558.5,535.7" stroke="#7c7c7c" stroke-width="0.63" fill="none" stroke-linecap="round"/>
<path d="M556.0,542.8 L552.2,539.4" stroke="#e6e6e6" stroke-width="0.63" fill="none" stroke-linecap="round"/>
<path d="M556.5,541.7 L553.0,539.2" stroke="#5e5e5e" stroke-width="0.89" fill="none" stroke-linecap="round"/>
<path d="M553.3,544.7 L549.4,540.5" stroke="#6e6e6e" stroke-width="0.78" fill="none" stroke-linecap="round"/>
<path d="M570.2,547.5 L574.1,543.1" stroke="#7c7c7c" stroke-width="0.59" fill="none" stroke-linecap="round"/>
<path d="M553.8,551.1 L547.5,552.4" stroke="#d8d8d8" stroke-width="0.77" fill="none" stroke-linecap="round"/>
<path d="M550.5,544.4 L547.5,540.2" stroke="#bababa" stroke-width="0.63" fill="none" stroke-linecap="round"/>
<path d="M568.2,548.5 L573.7,547.7" stroke="#7c7c7c" stroke-width="0.80" fill="none" stroke-linecap="round"/>
<path d="M573.5,551.5 L577.7,553.6" stroke="#fff" stroke-width="0.64" fill="none" stroke-linecap="round"/>
<path d="M550.1,551.4 L546.9,552.0" stroke="#6e6e6e" stroke-width="0.85" fill="none" stroke-linecap="round"/>
<path d="M558.6,544.0 L559.2,537.1" stroke="#bababa" stroke-width="0.79" fill="none" stroke-linecap="round"/>
<path d="M553.7,542.7 L552.8,538.0" stroke="#5e5e5e" stroke-width="0.60" fill="none" stroke-linecap="round"/>
<path d="M547.7,550.0 L543.7,552.2" stroke="#5e5e5e" stroke-width="0.46" fill="none" stroke-linecap="round"/>
<path d="M560.2,541.9 L559.2,538.0" stroke="#e6e6e6" stroke-width="0.57" fill="none" stroke-linecap="round"/>
<path d="M567.6,545.4 L569.7,542.0" stroke="#8a8a8a" stroke-width="0.91" fill="none" stroke-linecap="round"/>
<path d="M574.0,552.6 L577.0,554.9" stroke="#5e5e5e" stroke-width="0.89" fill="none" stroke-linecap="round"/>
<path d="M571.5,551.6 L577.4,551.3" stroke="#969696" stroke-width="0.65" fill="none" stroke-linecap="round"/>
<path d="M550.2,545.7 L547.3,542.1" stroke="#fff" stroke-width="0.59" fill="none" stroke-linecap="round"/>
<path d="M569.3,554.0 L572.2,554.7" stroke="#aeaeae" stroke-width="0.68" fill="none" stroke-linecap="round"/>
<path d="M549.1,543.3 L546.5,539.2" stroke="#8a8a8a" stroke-width="0.58" fill="none" stroke-linecap="round"/>
<path d="M572.5,549.5 L578.1,546.9" stroke="#cccccc" stroke-width="0.48" fill="none" stroke-linecap="round"/>
<path d="M563.1,543.8 L563.1,536.1" stroke="#8a8a8a" stroke-width="0.49" fill="none" stroke-linecap="round"/>
<path d="M554.8,546.6 L550.6,543.1" stroke="#9e9e9e" stroke-width="0.74" fill="none" stroke-linecap="round"/>
<path d="M572.8,548.9 L577.5,550.4" stroke="#7c7c7c" stroke-width="0.84" fill="none" stroke-linecap="round"/>
<path d="M558.8,542.7 L560.0,537.1" stroke="#a2a2a2" stroke-width="0.61" fill="none" stroke-linecap="round"/>
<path d="M555.5,537.1 L551.6,535.1" stroke="#7c7c7c" stroke-width="0.79" fill="none" stroke-linecap="round"/>
<path d="M550.8,550.8 L544.4,548.2" stroke="#fafafa" stroke-width="0.67" fill="none" stroke-linecap="round"/>
<path d="M571.8,549.5 L575.5,546.4" stroke="#fff" stroke-width="0.46" fill="none" stroke-linecap="round"/>
<path d="M569.2,554.1 L575.3,554.6" stroke="#bababa" stroke-width="0.92" fill="none" stroke-linecap="round"/>
<path d="M573.7,542.3 L576.2,536.5" stroke="#969696" stroke-width="0.55" fill="none" stroke-linecap="round"/>
<path d="M572.2,542.1 L576.1,540.8" stroke="#aeaeae" stroke-width="0.67" fill="none" stroke-linecap="round"/>
<path d="M556.2,541.8 L555.3,538.2" stroke="#8a8a8a" stroke-width="0.54" fill="none" stroke-linecap="round"/>
<path d="M556.2,539.6 L553.5,537.0" stroke="#8a8a8a" stroke-width="0.94" fill="none" stroke-linecap="round"/>
<path d="M558.4,541.9 L559.3,534.5" stroke="#8a8a8a" stroke-width="0.77" fill="none" stroke-linecap="round"/>
<path d="M570.3,545.7 L573.9,542.8" stroke="#6e6e6e" stroke-width="0.81" fill="none" stroke-linecap="round"/>
<path d="M566.2,539.9 L570.6,537.5" stroke="#cccccc" stroke-width="0.46" fill="none" stroke-linecap="round"/>
<path d="M553.5,541.7 L550.9,539.3" stroke="#cccccc" stroke-width="0.62" fill="none" stroke-linecap="round"/>
<path d="M552.5,543.1 L549.6,539.9" stroke="#a2a2a2" stroke-width="0.72" fill="none" stroke-linecap="round"/>
<path d="M556.6,544.7 L555.5,538.0" stroke="#cccccc" stroke-width="0.95" fill="none" stroke-linecap="round"/>
<path d="M570.5,541.9 L573.4,540.4" stroke="#fff" stroke-width="0.49" fill="none" stroke-linecap="round"/>
<path d="M549.8,543.9 L547.8,539.0" stroke="#aeaeae" stroke-width="0.58" fill="none" stroke-linecap="round"/>
<path d="M573.0,550.1 L577.2,549.9" stroke="#cccccc" stroke-width="0.73" fill="none" stroke-linecap="round"/>
<path d="M563.8,539.0 L566.5,536.0" stroke="#e6e6e6" stroke-width="0.52" fill="none" stroke-linecap="round"/>
<path d="M570.4,552.3 L573.7,553.6" stroke="#aeaeae" stroke-width="0.87" fill="none" stroke-linecap="round"/>
<path d="M553.8,548.8 L550.5,548.8" stroke="#f0f0f0" stroke-width="0.92" fill="none" stroke-linecap="round"/>
<path d="M567.8,541.5 L570.5,536.1" stroke="#e6e6e6" stroke-width="0.77" fill="none" stroke-linecap="round"/>
<path d="M569.2,546.3 L571.9,544.7" stroke="#7c7c7c" stroke-width="0.73" fill="none" stroke-linecap="round"/>
<path d="M552.3,548.6 L546.5,547.5" stroke="#fafafa" stroke-width="0.84" fill="none" stroke-linecap="round"/>
<path d="M569.3,544.0 L571.6,538.7" stroke="#aeaeae" stroke-width="0.66" fill="none" stroke-linecap="round"/>
<path d="M567.4,538.8 L570.0,533.4" stroke="#5e5e5e" stroke-width="0.87" fill="none" stroke-linecap="round"/>
<path d="M570.7,549.3 L576.8,550.2" stroke="#cccccc" stroke-width="0.62" fill="none" stroke-linecap="round"/>
<path d="M561.5,544.6 L561.0,537.1" stroke="#e6e6e6" stroke-width="0.90" fill="none" stroke-linecap="round"/>
<path d="M571.9,542.4 L575.8,540.0" stroke="#7c7c7c" stroke-width="0.57" fill="none" stroke-linecap="round"/>
<path d="M573.0,548.3 L576.6,547.1" stroke="#7c7c7c" stroke-width="0.71" fill="none" stroke-linecap="round"/>
<path d="M552.5,546.1 L548.0,545.7" stroke="#f0f0f0" stroke-width="0.82" fill="none" stroke-linecap="round"/>
<path d="M571.5,549.8 L576.7,546.8" stroke="#fafafa" stroke-width="0.82" fill="none" stroke-linecap="round"/>
<path d="M562.9,544.0 L562.6,536.9" stroke="#cccccc" stroke-width="0.74" fill="none" stroke-linecap="round"/>
<path d="M558.8,540.0 L556.6,537.4" stroke="#5e5e5e" stroke-width="0.90" fill="none" stroke-linecap="round"/>
<path d="M569.9,548.1 L574.2,543.5" stroke="#6e6e6e" stroke-width="0.68" fill="none" stroke-linecap="round"/>
<path d="M555.6,545.5 L552.4,539.3" stroke="#f0f0f0" stroke-width="0.55" fill="none" stroke-linecap="round"/>
<path d="M548.7,539.0 L547.9,534.4" stroke="#aeaeae" stroke-width="0.90" fill="none" stroke-linecap="round"/>
<path d="M549.5,554.6 L544.5,555.6" stroke="#969696" stroke-width="0.55" fill="none" stroke-linecap="round"/>
<path d="M568.4,550.7 L574.7,548.7" stroke="#f0f0f0" stroke-width="0.59" fill="none" stroke-linecap="round"/>
<path d="M557.8,541.8 L557.3,533.9" stroke="#bababa" stroke-width="0.49" fill="none" stroke-linecap="round"/>
<path d="M550.2,545.4 L545.9,545.0" stroke="#969696" stroke-width="0.70" fill="none" stroke-linecap="round"/>
<path d="M551.5,542.0 L546.4,540.3" stroke="#cccccc" stroke-width="0.56" fill="none" stroke-linecap="round"/>
<path d="M550.8,540.8 L548.5,536.9" stroke="#7c7c7c" stroke-width="0.68" fill="none" stroke-linecap="round"/>
<path d="M553.3,551.9 L546.1,554.6" stroke="#e6e6e6" stroke-width="0.59" fill="none" stroke-linecap="round"/>
<path d="M554.5,547.0 L551.7,543.5" stroke="#969696" stroke-width="0.54" fill="none" stroke-linecap="round"/>
<path d="M570.3,544.0 L574.5,543.4" stroke="#e6e6e6" stroke-width="0.68" fill="none" stroke-linecap="round"/>
<path d="M572.9,543.0 L574.7,538.9" stroke="#cccccc" stroke-width="0.84" fill="none" stroke-linecap="round"/>
<path d="M571.0,551.4 L574.1,550.3" stroke="#d8d8d8" stroke-width="0.87" fill="none" stroke-linecap="round"/>
<path d="M571.1,539.4 L575.1,537.7" stroke="#8a8a8a" stroke-width="0.51" fill="none" stroke-linecap="round"/>
<path d="M558.1,540.3 L558.3,535.9" stroke="#9e9e9e" stroke-width="0.57" fill="none" stroke-linecap="round"/>
<path d="M560.5,541.2 L557.6,536.1" stroke="#e6e6e6" stroke-width="0.94" fill="none" stroke-linecap="round"/>
<path d="M549.0,553.0 L545.5,552.8" stroke="#e6e6e6" stroke-width="0.70" fill="none" stroke-linecap="round"/>
<path d="M558.7,543.0 L554.7,537.0" stroke="#f0f0f0" stroke-width="0.54" fill="none" stroke-linecap="round"/>
<path d="M567.8,539.8 L568.0,533.1" stroke="#bababa" stroke-width="0.47" fill="none" stroke-linecap="round"/>
<path d="M553.0,542.3 L550.7,538.7" stroke="#7c7c7c" stroke-width="0.78" fill="none" stroke-linecap="round"/>
<path d="M561.2,543.1 L562.3,537.6" stroke="#e6e6e6" stroke-width="0.84" fill="none" stroke-linecap="round"/>
<path d="M551.9,552.4 L547.9,550.5" stroke="#6e6e6e" stroke-width="0.51" fill="none" stroke-linecap="round"/>
<path d="M567.7,547.0 L573.2,543.2" stroke="#6e6e6e" stroke-width="0.45" fill="none" stroke-linecap="round"/>
<path d="M558.3,544.5 L556.3,539.1" stroke="#f0f0f0" stroke-width="0.49" fill="none" stroke-linecap="round"/>
<path d="M547.7,554.0 L542.9,556.7" stroke="#a2a2a2" stroke-width="0.51" fill="none" stroke-linecap="round"/>
<path d="M568.3,550.0 L572.1,548.2" stroke="#f0f0f0" stroke-width="0.76" fill="none" stroke-linecap="round"/>
<path d="M550.4,553.4 L547.3,554.6" stroke="#9e9e9e" stroke-width="0.91" fill="none" stroke-linecap="round"/>
<path d="M569.5,550.6 L576.9,552.1" stroke="#969696" stroke-width="0.64" fill="none" stroke-linecap="round"/>
<path d="M569.1,547.1 L572.6,545.3" stroke="#8a8a8a" stroke-width="0.69" fill="none" stroke-linecap="round"/>
<path d="M555.9,538.9 L553.9,534.0" stroke="#fafafa" stroke-width="0.79" fill="none" stroke-linecap="round"/>
<path d="M570.0,549.8 L573.5,549.9" stroke="#aeaeae" stroke-width="0.92" fill="none" stroke-linecap="round"/>
<path d="M566.8,539.6 L569.7,534.8" stroke="#fafafa" stroke-width="0.81" fill="none" stroke-linecap="round"/>
<path d="M554.6,546.4 L548.2,542.0" stroke="#fff" stroke-width="0.57" fill="none" stroke-linecap="round"/>
<path d="M573.2,548.0 L575.8,546.8" stroke="#d8d8d8" stroke-width="0.89" fill="none" stroke-linecap="round"/>
<path d="M553.2,541.7 L550.7,539.5" stroke="#969696" stroke-width="0.69" fill="none" stroke-linecap="round"/>
<path d="M553.5,548.6 L549.6,547.4" stroke="#5e5e5e" stroke-width="0.72" fill="none" stroke-linecap="round"/>
<path d="M551.9,549.9 L545.6,547.5" stroke="#8a8a8a" stroke-width="0.89" fill="none" stroke-linecap="round"/>
<path d="M571.0,548.4 L574.5,547.4" stroke="#aeaeae" stroke-width="0.56" fill="none" stroke-linecap="round"/>
<path d="M554.7,545.5 L551.1,544.8" stroke="#fafafa" stroke-width="0.69" fill="none" stroke-linecap="round"/>
<path d="M548.8,555.0 L544.7,558.8" stroke="#d8d8d8" stroke-width="0.56" fill="none" stroke-linecap="round"/>
<path d="M571.9,538.9 L573.1,534.4" stroke="#fafafa" stroke-width="0.58" fill="none" stroke-linecap="round"/>
<path d="M570.0,547.4 L575.8,547.2" stroke="#a2a2a2" stroke-width="0.70" fill="none" stroke-linecap="round"/>
<path d="M553.6,545.0 L548.5,542.8" stroke="#fafafa" stroke-width="0.81" fill="none" stroke-linecap="round"/>
<path d="M562.1,536.7 L562.2,532.4" stroke="#a2a2a2" stroke-width="0.80" fill="none" stroke-linecap="round"/>
<path d="M562.3,544.7 L562.7,539.8" stroke="#7c7c7c" stroke-width="0.91" fill="none" stroke-linecap="round"/>
<path d="M550.1,542.4 L547.7,538.3" stroke="#f0f0f0" stroke-width="0.58" fill="none" stroke-linecap="round"/>
<path d="M549.3,554.3 L546.4,556.2" stroke="#fafafa" stroke-width="0.89" fill="none" stroke-linecap="round"/>
<path d="M565.9,543.3 L567.1,535.6" stroke="#9e9e9e" stroke-width="0.92" fill="none" stroke-linecap="round"/>
<path d="M571.9,545.0 L575.9,541.8" stroke="#a2a2a2" stroke-width="0.48" fill="none" stroke-linecap="round"/>
<path d="M559.0,537.7 L560.5,534.1" stroke="#fafafa" stroke-width="0.70" fill="none" stroke-linecap="round"/>
<path d="M550.8,540.1 L546.9,538.9" stroke="#969696" stroke-width="0.58" fill="none" stroke-linecap="round"/>
<path d="M547.7,544.2 L542.7,545.2" stroke="#cccccc" stroke-width="0.70" fill="none" stroke-linecap="round"/>
<path d="M567.8,540.9 L572.7,537.3" stroke="#fff" stroke-width="0.62" fill="none" stroke-linecap="round"/>
<path d="M555.2,542.9 L552.6,536.8" stroke="#fafafa" stroke-width="0.53" fill="none" stroke-linecap="round"/>
<path d="M552.5,548.1 L547.4,543.9" stroke="#a2a2a2" stroke-width="0.63" fill="none" stroke-linecap="round"/>
<path d="M551.7,542.9 L547.7,541.1" stroke="#aeaeae" stroke-width="0.80" fill="none" stroke-linecap="round"/>
<path d="M575.3,551.6 L579.7,553.7" stroke="#f0f0f0" stroke-width="0.80" fill="none" stroke-linecap="round"/>
<path d="M548.5,550.2 L543.6,551.7" stroke="#d8d8d8" stroke-width="0.66" fill="none" stroke-linecap="round"/>
<path d="M560.2,542.1 L560.9,535.4" stroke="#a2a2a2" stroke-width="0.81" fill="none" stroke-linecap="round"/>
<path d="M552.6,545.6 L549.7,541.7" stroke="#d8d8d8" stroke-width="0.73" fill="none" stroke-linecap="round"/>
<path d="M547.7,549.3 L544.5,547.2" stroke="#a2a2a2" stroke-width="0.85" fill="none" stroke-linecap="round"/>
<path d="M549.5,549.8 L545.2,550.9" stroke="#6e6e6e" stroke-width="0.69" fill="none" stroke-linecap="round"/>
<path d="M572.4,538.8 L573.9,534.4" stroke="#a2a2a2" stroke-width="0.77" fill="none" stroke-linecap="round"/>
<path d="M554.2,535.3 L554.5,531.8" stroke="#7c7c7c" stroke-width="0.89" fill="none" stroke-linecap="round"/>
<path d="M550.8,547.2 L544.5,545.0" stroke="#f0f0f0" stroke-width="0.46" fill="none" stroke-linecap="round"/>
<path d="M562.5,542.0 L564.7,537.9" stroke="#d8d8d8" stroke-width="0.77" fill="none" stroke-linecap="round"/>
<path d="M551.4,546.1 L548.4,543.9" stroke="#fafafa" stroke-width="0.80" fill="none" stroke-linecap="round"/>
<path d="M562.3,543.5 L561.3,539.5" stroke="#f0f0f0" stroke-width="0.90" fill="none" stroke-linecap="round"/>
<path d="M568.9,550.6 L576.0,548.2" stroke="#e6e6e6" stroke-width="0.52" fill="none" stroke-linecap="round"/>
<path d="M564.8,544.0 L566.7,538.9" stroke="#a2a2a2" stroke-width="0.73" fill="none" stroke-linecap="round"/>
<path d="M550.3,548.9 L546.1,550.4" stroke="#aeaeae" stroke-width="0.69" fill="none" stroke-linecap="round"/>
<path d="M571.7,555.0 L575.0,555.5" stroke="#fff" stroke-width="0.73" fill="none" stroke-linecap="round"/>
<path d="M563.2,541.1 L562.9,535.5" stroke="#969696" stroke-width="0.92" fill="none" stroke-linecap="round"/>
<path d="M572.1,549.4 L579.4,549.4" stroke="#8a8a8a" stroke-width="0.88" fill="none" stroke-linecap="round"/>
<path d="M572.0,552.8 L576.3,550.5" stroke="#cccccc" stroke-width="0.61" fill="none" stroke-linecap="round"/>
<path d="M561.3,543.7 L559.1,537.1" stroke="#cccccc" stroke-width="0.58" fill="none" stroke-linecap="round"/>
<path d="M550.5,544.4 L547.0,541.6" stroke="#fafafa" stroke-width="0.83" fill="none" stroke-linecap="round"/>
<path d="M571.7,554.5 L574.0,556.1" stroke="#a2a2a2" stroke-width="0.90" fill="none" stroke-linecap="round"/>
<path d="M564.4,544.8 L567.3,541.1" stroke="#cccccc" stroke-width="0.78" fill="none" stroke-linecap="round"/>
<path d="M571.7,547.1 L575.5,544.0" stroke="#f0f0f0" stroke-width="0.78" fill="none" stroke-linecap="round"/>
<path d="M563.8,543.8 L563.2,539.6" stroke="#8a8a8a" stroke-width="0.72" fill="none" stroke-linecap="round"/>
<path d="M565.8,545.7 L567.6,542.4" stroke="#bababa" stroke-width="0.46" fill="none" stroke-linecap="round"/>
<path d="M558.1,544.8 L557.1,537.0" stroke="#fff" stroke-width="0.55" fill="none" stroke-linecap="round"/>
<path d="M572.7,550.0 L576.4,552.2" stroke="#bababa" stroke-width="0.69" fill="none" stroke-linecap="round"/>
<path d="M572.5,552.6 L576.4,554.6" stroke="#7c7c7c" stroke-width="0.79" fill="none" stroke-linecap="round"/>
<path d="M568.8,552.6 L573.1,555.3" stroke="#8a8a8a" stroke-width="0.82" fill="none" stroke-linecap="round"/>
<path d="M565.3,545.5 L568.1,540.1" stroke="#5e5e5e" stroke-width="0.88" fill="none" stroke-linecap="round"/>
<path d="M566.5,541.1 L569.7,538.9" stroke="#9e9e9e" stroke-width="0.82" fill="none" stroke-linecap="round"/>
<path d="M557.7,538.6 L555.8,534.4" stroke="#cccccc" stroke-width="0.74" fill="none" stroke-linecap="round"/>
<path d="M561.5,541.5 L562.2,536.9" stroke="#e6e6e6" stroke-width="0.48" fill="none" stroke-linecap="round"/>
<path d="M554.7,543.7 L552.6,540.0" stroke="#969696" stroke-width="0.82" fill="none" stroke-linecap="round"/>
<path d="M572.5,554.9 L575.0,558.4" stroke="#5e5e5e" stroke-width="0.51" fill="none" stroke-linecap="round"/>
<path d="M546.8,545.8 L542.5,546.9" stroke="#7c7c7c" stroke-width="0.71" fill="none" stroke-linecap="round"/>
<path d="M571.2,554.7 L574.4,554.3" stroke="#fff" stroke-width="0.62" fill="none" stroke-linecap="round"/>
<path d="M552.5,547.4 L548.9,542.8" stroke="#969696" stroke-width="0.49" fill="none" stroke-linecap="round"/>
<path d="M563.3,540.4 L565.8,536.7" stroke="#d8d8d8" stroke-width="0.48" fill="none" stroke-linecap="round"/>
<path d="M568.4,550.4 L576.2,550.6" stroke="#8a8a8a" stroke-width="0.50" fill="none" stroke-linecap="round"/>
<path d="M549.5,553.6 L546.6,556.2" stroke="#8a8a8a" stroke-width="0.76" fill="none" stroke-linecap="round"/>
<path d="M550.9,553.6 L546.1,556.9" stroke="#fafafa" stroke-width="0.55" fill="none" stroke-linecap="round"/>
<path d="M567.9,538.5 L570.7,535.6" stroke="#bababa" stroke-width="0.64" fill="none" stroke-linecap="round"/>
<path d="M574.6,546.2 L579.7,545.3" stroke="#969696" stroke-width="0.80" fill="none" stroke-linecap="round"/>
<path d="M550.4,547.6 L545.3,547.9" stroke="#7c7c7c" stroke-width="0.58" fill="none" stroke-linecap="round"/>
<path d="M555.4,543.4 L552.1,542.1" stroke="#969696" stroke-width="0.82" fill="none" stroke-linecap="round"/>
<path d="M555.8,542.9 L554.5,539.4" stroke="#bababa" stroke-width="0.64" fill="none" stroke-linecap="round"/>
<path d="M564.2,544.5 L564.1,540.6" stroke="#cccccc" stroke-width="0.80" fill="none" stroke-linecap="round"/>
<path d="M552.8,546.5 L546.0,543.6" stroke="#d8d8d8" stroke-width="0.49" fill="none" stroke-linecap="round"/>
<path d="M566.5,542.8 L568.2,539.1" stroke="#969696" stroke-width="0.67" fill="none" stroke-linecap="round"/>
<path d="M552.4,552.3 L547.2,550.3" stroke="#a2a2a2" stroke-width="0.78" fill="none" stroke-linecap="round"/>
<path d="M554.0,553.6 L549.2,554.4" stroke="#d8d8d8" stroke-width="0.58" fill="none" stroke-linecap="round"/>
<path d="M557.1,539.3 L556.3,534.9" stroke="#cccccc" stroke-width="0.78" fill="none" stroke-linecap="round"/>
<path d="M558.8,540.0 L555.8,537.6" stroke="#e6e6e6" stroke-width="0.78" fill="none" stroke-linecap="round"/>
<path d="M551.0,536.8 L550.2,533.7" stroke="#5e5e5e" stroke-width="0.49" fill="none" stroke-linecap="round"/>
<path d="M550.7,548.2 L544.1,548.7" stroke="#969696" stroke-width="0.94" fill="none" stroke-linecap="round"/>
<path d="M572.3,554.9 L575.6,557.0" stroke="#6e6e6e" stroke-width="0.48" fill="none" stroke-linecap="round"/>
<path d="M559.2,540.2 L561.5,536.0" stroke="#969696" stroke-width="0.70" fill="none" stroke-linecap="round"/>
<path d="M568.2,549.2 L573.7,544.5" stroke="#fafafa" stroke-width="0.80" fill="none" stroke-linecap="round"/>
<path d="M573.4,545.0 L579.9,541.1" stroke="#f0f0f0" stroke-width="0.51" fill="none" stroke-linecap="round"/>
<path d="M559.6,540.4 L561.3,536.9" stroke="#6e6e6e" stroke-width="0.50" fill="none" stroke-linecap="round"/>
<path d="M556.0,537.2 L552.3,534.8" stroke="#cccccc" stroke-width="0.73" fill="none" stroke-linecap="round"/>
<path d="M550.8,552.2 L546.7,553.4" stroke="#aeaeae" stroke-width="0.84" fill="none" stroke-linecap="round"/>
<path d="M554.8,547.4 L551.4,545.2" stroke="#cccccc" stroke-width="0.50" fill="none" stroke-linecap="round"/>
<path d="M546.4,548.6 L540.7,550.0" stroke="#e6e6e6" stroke-width="0.71" fill="none" stroke-linecap="round"/>
<path d="M555.8,537.9 L553.7,533.7" stroke="#6e6e6e" stroke-width="0.56" fill="none" stroke-linecap="round"/>
<path d="M571.4,546.6 L574.9,543.5" stroke="#e6e6e6" stroke-width="0.46" fill="none" stroke-linecap="round"/>
<path d="M547.8,550.3 L545.1,547.9" stroke="#6e6e6e" stroke-width="0.64" fill="none" stroke-linecap="round"/>
<path d="M553.3,543.6 L548.6,539.3" stroke="#f0f0f0" stroke-width="0.69" fill="none" stroke-linecap="round"/>
<path d="M570.6,536.9 L573.1,533.0" stroke="#f0f0f0" stroke-width="0.50" fill="none" stroke-linecap="round"/>
<path d="M566.1,541.5 L565.8,537.0" stroke="#fff" stroke-width="0.69" fill="none" stroke-linecap="round"/>
<path d="M555.4,542.4 L555.3,538.8" stroke="#6e6e6e" stroke-width="0.53" fill="none" stroke-linecap="round"/>
<path d="M555.2,539.7 L554.5,535.0" stroke="#6e6e6e" stroke-width="0.61" fill="none" stroke-linecap="round"/>
<path d="M560.2,540.1 L557.1,536.1" stroke="#bababa" stroke-width="0.75" fill="none" stroke-linecap="round"/>
<path d="M551.0,550.9 L547.2,548.1" stroke="#9e9e9e" stroke-width="0.63" fill="none" stroke-linecap="round"/>
<path d="M552.1,542.3 L549.0,538.9" stroke="#cccccc" stroke-width="0.83" fill="none" stroke-linecap="round"/>
<path d="M555.7,543.9 L554.0,538.1" stroke="#bababa" stroke-width="0.77" fill="none" stroke-linecap="round"/>
<path d="M556.0,542.2 L553.9,539.4" stroke="#969696" stroke-width="0.87" fill="none" stroke-linecap="round"/>
<path d="M552.6,540.7 L550.5,536.3" stroke="#6e6e6e" stroke-width="0.95" fill="none" stroke-linecap="round"/>
<path d="M560.6,544.2 L559.8,540.6" stroke="#9e9e9e" stroke-width="0.46" fill="none" stroke-linecap="round"/>
<ellipse cx="560.8" cy="551.6" rx="10.2" ry="8.0" fill="#747474"/>
<ellipse cx="563.0" cy="554.4" rx="6.6" ry="4.6" fill="#505050"/>
<ellipse cx="554.6" cy="549.4" rx="2.6" ry="2.2" fill="#4a4a4a"/>
<circle cx="562.4" cy="544.1" r="0.64" fill="#666"/>
<circle cx="557.5" cy="553.8" r="0.44" fill="#bbb"/>
<circle cx="566.4" cy="550.9" r="0.47" fill="#bbb"/>
<circle cx="565.9" cy="554.6" r="0.46" fill="#bbb"/>
<circle cx="557.2" cy="555.5" r="0.82" fill="#444"/>
<circle cx="569.9" cy="549.6" r="0.67" fill="#bbb"/>
<circle cx="562.0" cy="558.4" r="0.45" fill="#555"/>
<circle cx="557.3" cy="546.2" r="0.48" fill="#444"/>
<circle cx="556.3" cy="550.4" r="0.87" fill="#a5a5a5"/>
<circle cx="554.8" cy="555.0" r="0.65" fill="#a5a5a5"/>
<circle cx="564.6" cy="550.1" r="0.64" fill="#bbb"/>
<circle cx="561.8" cy="557.3" r="0.69" fill="#bbb"/>
<circle cx="554.8" cy="549.4" r="0.73" fill="#555"/>
<circle cx="558.3" cy="556.5" r="0.59" fill="#666"/>
<circle cx="562.3" cy="557.1" r="0.79" fill="#8a8a8a"/>
<circle cx="553.8" cy="555.0" r="0.56" fill="#a5a5a5"/>
<circle cx="564.7" cy="547.6" r="0.58" fill="#8a8a8a"/>
<circle cx="559.0" cy="544.7" r="0.80" fill="#444"/>
<circle cx="555.9" cy="547.8" r="0.62" fill="#555"/>
<circle cx="563.2" cy="552.7" r="0.85" fill="#a5a5a5"/>
<circle cx="559.9" cy="551.6" r="0.49" fill="#555"/>
<circle cx="563.2" cy="554.6" r="0.82" fill="#3c3c3c"/>
<circle cx="562.2" cy="552.6" r="0.64" fill="#8a8a8a"/>
<circle cx="559.7" cy="559.1" r="0.80" fill="#8a8a8a"/>
<circle cx="555.2" cy="547.1" r="0.77" fill="#3c3c3c"/>
<circle cx="557.7" cy="546.5" r="0.69" fill="#555"/>
<circle cx="564.6" cy="549.7" r="0.76" fill="#bbb"/>
<circle cx="556.6" cy="557.4" r="0.89" fill="#666"/>
<circle cx="553.0" cy="549.6" r="0.67" fill="#555"/>
<circle cx="555.9" cy="548.6" r="0.68" fill="#8a8a8a"/>
<circle cx="556.1" cy="545.2" r="0.54" fill="#444"/>
<circle cx="556.4" cy="551.9" r="0.59" fill="#bbb"/>
<circle cx="567.2" cy="552.5" r="0.70" fill="#555"/>
<circle cx="561.7" cy="555.4" r="0.78" fill="#3c3c3c"/>
<circle cx="564.9" cy="553.2" r="0.53" fill="#666"/>
<circle cx="558.1" cy="556.3" r="0.64" fill="#555"/>
<circle cx="564.5" cy="549.4" r="0.87" fill="#555"/>
<circle cx="560.9" cy="552.8" r="0.84" fill="#8a8a8a"/>
<circle cx="552.3" cy="552.6" r="0.87" fill="#3c3c3c"/>
<circle cx="563.9" cy="545.1" r="0.45" fill="#444"/>
<circle cx="562.1" cy="545.9" r="0.55" fill="#8a8a8a"/>
<circle cx="564.1" cy="545.1" r="0.61" fill="#444"/>
<circle cx="569.2" cy="552.5" r="0.66" fill="#a5a5a5"/>
<circle cx="554.5" cy="552.2" r="0.71" fill="#8a8a8a"/>
<circle cx="554.7" cy="554.8" r="0.68" fill="#444"/>
<circle cx="570.3" cy="552.8" r="0.85" fill="#555"/>
<circle cx="555.9" cy="547.4" r="0.87" fill="#8a8a8a"/>
<circle cx="560.6" cy="553.2" r="0.69" fill="#666"/>
<circle cx="568.8" cy="548.9" r="0.44" fill="#555"/>
<circle cx="561.2" cy="559.0" r="0.45" fill="#444"/>
<circle cx="556.8" cy="548.7" r="0.61" fill="#444"/>
<circle cx="553.8" cy="546.9" r="0.66" fill="#3c3c3c"/>
<circle cx="562.4" cy="555.8" r="0.44" fill="#bbb"/>
<circle cx="558.2" cy="558.9" r="0.89" fill="#555"/>
<circle cx="567.5" cy="550.4" r="0.51" fill="#8a8a8a"/>
<circle cx="558.6" cy="558.0" r="0.53" fill="#555"/>
<circle cx="562.5" cy="552.2" r="0.66" fill="#8a8a8a"/>
<circle cx="557.8" cy="554.2" r="0.49" fill="#a5a5a5"/>
<circle cx="553.8" cy="548.0" r="0.51" fill="#a5a5a5"/>
<circle cx="564.4" cy="553.5" r="0.66" fill="#3c3c3c"/>
<circle cx="555.9" cy="557.7" r="0.56" fill="#555"/>
<circle cx="552.1" cy="552.0" r="0.76" fill="#666"/>
<circle cx="564.3" cy="556.3" r="0.45" fill="#3c3c3c"/>
<circle cx="564.5" cy="551.9" r="0.51" fill="#a5a5a5"/>
<circle cx="558.2" cy="549.6" r="0.90" fill="#444"/>
<circle cx="558.5" cy="546.1" r="0.74" fill="#bbb"/>
<circle cx="562.0" cy="558.7" r="0.64" fill="#444"/>
<circle cx="560.8" cy="549.9" r="0.61" fill="#444"/>
<circle cx="554.0" cy="551.7" r="0.87" fill="#555"/>
<circle cx="557.6" cy="558.5" r="0.80" fill="#555"/>
<circle cx="557.2" cy="544.7" r="0.47" fill="#555"/>
<circle cx="564.4" cy="557.8" r="0.84" fill="#666"/>
<circle cx="564.2" cy="549.7" r="0.46" fill="#666"/>
<circle cx="557.8" cy="544.8" r="0.56" fill="#8a8a8a"/>
<circle cx="562.4" cy="548.3" r="0.67" fill="#3c3c3c"/>
<circle cx="562.2" cy="555.9" r="0.53" fill="#3c3c3c"/>
<circle cx="552.6" cy="554.2" r="0.44" fill="#444"/>
<circle cx="557.0" cy="555.9" r="0.65" fill="#666"/>
<circle cx="554.0" cy="549.2" r="0.45" fill="#3c3c3c"/>
<circle cx="560.5" cy="557.9" r="0.63" fill="#3c3c3c"/>
<circle cx="562.9" cy="557.2" r="0.42" fill="#a5a5a5"/>
<circle cx="553.7" cy="551.3" r="0.41" fill="#666"/>
<circle cx="566.1" cy="550.2" r="0.54" fill="#444"/>
<circle cx="551.7" cy="550.3" r="0.51" fill="#bbb"/>
<circle cx="566.8" cy="551.8" r="0.43" fill="#666"/>
<path d="M555.2,547.5 L552.1,545.2" stroke="#666" stroke-width="0.7" fill="none" stroke-linecap="round"/>
<path d="M562.0,546.0 L562.6,542.6" stroke="#9c9c9c" stroke-width="0.7" fill="none" stroke-linecap="round"/>
<path d="M557.1,549.0 L553.5,546.2" stroke="#666" stroke-width="0.7" fill="none" stroke-linecap="round"/>
<path d="M559.6,546.4 L558.6,542.6" stroke="#9c9c9c" stroke-width="0.7" fill="none" stroke-linecap="round"/>
<path d="M566.4,549.7 L571.1,548.0" stroke="#666" stroke-width="0.7" fill="none" stroke-linecap="round"/>
<path d="M566.6,547.9 L569.4,546.0" stroke="#666" stroke-width="0.7" fill="none" stroke-linecap="round"/>
<path d="M562.1,545.4 L562.9,540.6" stroke="#9c9c9c" stroke-width="0.7" fill="none" stroke-linecap="round"/>
<path d="M556.9,547.5 L554.7,545.1" stroke="#9c9c9c" stroke-width="0.7" fill="none" stroke-linecap="round"/>
<path d="M558.3,548.2 L555.6,544.3" stroke="#9c9c9c" stroke-width="0.7" fill="none" stroke-linecap="round"/>
<path d="M560.6,547.5 L560.4,542.7" stroke="#666" stroke-width="0.7" fill="none" stroke-linecap="round"/>
<path d="M563.4,546.4 L565.3,542.2" stroke="#b4b4b4" stroke-width="0.7" fill="none" stroke-linecap="round"/>
<path d="M557.4,547.2 L554.6,543.6" stroke="#b4b4b4" stroke-width="0.7" fill="none" stroke-linecap="round"/>
<path d="M555.9,549.8 L551.4,548.1" stroke="#777" stroke-width="0.7" fill="none" stroke-linecap="round"/>
<path d="M563.6,545.6 L565.0,542.4" stroke="#b4b4b4" stroke-width="0.7" fill="none" stroke-linecap="round"/>
<path d="M556.0,550.0 L553.1,548.9" stroke="#666" stroke-width="0.7" fill="none" stroke-linecap="round"/>
<path d="M566.1,547.8 L569.0,545.6" stroke="#666" stroke-width="0.7" fill="none" stroke-linecap="round"/>
<path d="M556.1,549.3 L553.4,547.8" stroke="#777" stroke-width="0.7" fill="none" stroke-linecap="round"/>
<path d="M560.7,546.4 L560.6,543.0" stroke="#666" stroke-width="0.7" fill="none" stroke-linecap="round"/>
<path d="M561.0,545.2 L561.0,540.8" stroke="#b4b4b4" stroke-width="0.7" fill="none" stroke-linecap="round"/>
<path d="M566.2,547.1 L570.3,543.5" stroke="#8a8a8a" stroke-width="0.7" fill="none" stroke-linecap="round"/>
<path d="M565.6,547.5 L569.4,544.1" stroke="#8a8a8a" stroke-width="0.7" fill="none" stroke-linecap="round"/>
<path d="M555.9,548.9 L551.6,546.4" stroke="#777" stroke-width="0.7" fill="none" stroke-linecap="round"/>
<path d="M538.2,559.9 Q548,556.4 557.9,554.6 L558.4,557.0 Q548,559.4 538.2,559.9Z" fill="#4a4a4a"/>
<path d="M541.9,555.7 L543.0,555.2 L556.2,573.7 L548.7,573.7 L545.6,560.9Z" fill="#4d4d4d"/>
<path d="M557.9,558.6 L562.6,559.8 L573.6,573.7 L557.4,573.7 Q556.6,566 557.9,558.6Z" fill="#505050"/></g>
<g transform="translate(-273.9,0)" filter="url(#soft)"><path d="M558.3,537.5 L557.7,533.6" stroke="#e6e6e6" stroke-width="0.54" fill="none" stroke-linecap="round"/>
<path d="M571.8,546.7 L575.3,544.8" stroke="#8a8a8a" stroke-width="0.50" fill="none" stroke-linecap="round"/>
<path d="M567.7,548.8 L575.7,548.1" stroke="#fafafa" stroke-width="0.82" fill="none" stroke-linecap="round"/>
<path d="M569.0,538.9 L568.0,534.7" stroke="#f0f0f0" stroke-width="0.57" fill="none" stroke-linecap="round"/>
<path d="M551.5,553.6 L545.4,554.6" stroke="#fafafa" stroke-width="0.60" fill="none" stroke-linecap="round"/>
<path d="M551.4,554.5 L547.5,555.4" stroke="#f0f0f0" stroke-width="0.87" fill="none" stroke-linecap="round"/>
<path d="M567.2,545.4 L568.7,540.9" stroke="#fff" stroke-width="0.50" fill="none" stroke-linecap="round"/>
<path d="M553.5,551.0 L550.6,550.0" stroke="#969696" stroke-width="0.55" fill="none" stroke-linecap="round"/>
<path d="M574.9,551.3 L577.8,548.5" stroke="#fafafa" stroke-width="0.55" fill="none" stroke-linecap="round"/>
<path d="M566.8,544.2 L568.3,541.5" stroke="#f0f0f0" stroke-width="0.51" fill="none" stroke-linecap="round"/>
<path d="M554.9,547.5 L548.3,544.8" stroke="#cccccc" stroke-width="0.54" fill="none" stroke-linecap="round"/>
<path d="M561.4,537.0 L560.7,531.9" stroke="#bababa" stroke-width="0.66" fill="none" stroke-linecap="round"/>
<path d="M548.5,545.0 L544.9,544.5" stroke="#f0f0f0" stroke-width="0.46" fill="none" stroke-linecap="round"/>
<path d="M548.4,546.5 L542.0,547.2" stroke="#8a8a8a" stroke-width="0.56" fill="none" stroke-linecap="round"/>
<path d="M552.6,545.3 L547.8,544.4" stroke="#7c7c7c" stroke-width="0.55" fill="none" stroke-linecap="round"/>
<path d="M565.4,543.7 L566.6,537.5" stroke="#e6e6e6" stroke-width="0.69" fill="none" stroke-linecap="round"/>
<path d="M563.3,543.3 L566.1,540.3" stroke="#d8d8d8" stroke-width="0.76" fill="none" stroke-linecap="round"/>
<path d="M569.6,544.0 L574.7,541.1" stroke="#bababa" stroke-width="0.89" fill="none" stroke-linecap="round"/>
<path d="M563.9,544.5 L566.7,542.4" stroke="#969696" stroke-width="0.82" fill="none" stroke-linecap="round"/>
<path d="M555.2,538.6 L553.7,534.8" stroke="#f0f0f0" stroke-width="0.81" fill="none" stroke-linecap="round"/>
<path d="M551.3,552.2 L546.7,551.8" stroke="#a2a2a2" stroke-width="0.56" fill="none" stroke-linecap="round"/>
<path d="M568.5,551.6 L573.5,550.4" stroke="#6e6e6e" stroke-width="0.54" fill="none" stroke-linecap="round"/>
<path d="M557.0,544.5 L556.4,539.6" stroke="#aeaeae" stroke-width="0.78" fill="none" stroke-linecap="round"/>
<path d="M566.4,545.5 L566.9,541.9" stroke="#f0f0f0" stroke-width="0.63" fill="none" stroke-linecap="round"/>
<path d="M553.8,543.4 L550.0,542.4" stroke="#a2a2a2" stroke-width="0.61" fill="none" stroke-linecap="round"/>
<path d="M569.9,554.5 L573.4,557.7" stroke="#9e9e9e" stroke-width="0.82" fill="none" stroke-linecap="round"/>
<path d="M550.7,549.9 L547.3,549.4" stroke="#7c7c7c" stroke-width="0.89" fill="none" stroke-linecap="round"/>
<path d="M556.2,537.1 L555.5,532.0" stroke="#bababa" stroke-width="0.64" fill="none" stroke-linecap="round"/>
<path d="M553.7,553.6 L550.6,555.4" stroke="#bababa" stroke-width="0.81" fill="none" stroke-linecap="round"/>
<path d="M555.7,540.1 L555.7,534.6" stroke="#7c7c7c" stroke-width="0.71" fill="none" stroke-linecap="round"/>
<path d="M561.3,544.2 L563.2,541.4" stroke="#7c7c7c" stroke-width="0.70" fill="none" stroke-linecap="round"/>
<path d="M565.0,542.9 L565.4,539.7" stroke="#fafafa" stroke-width="0.76" fill="none" stroke-linecap="round"/>
<path d="M561.6,541.7 L562.1,534.1" stroke="#969696" stroke-width="0.61" fill="none" stroke-linecap="round"/>
<path d="M566.9,543.4 L572.9,539.4" stroke="#f0f0f0" stroke-width="0.56" fill="none" stroke-linecap="round"/>
<path d="M552.8,547.1 L549.3,545.9" stroke="#f0f0f0" stroke-width="0.87" fill="none" stroke-linecap="round"/>
<path d="M568.2,544.5 L570.8,541.6" stroke="#a2a2a2" stroke-width="0.91" fill="none" stroke-linecap="round"/>
<path d="M571.1,548.2 L577.5,547.4" stroke="#d8d8d8" stroke-width="0.94" fill="none" stroke-linecap="round"/>
<path d="M559.6,544.7 L556.0,538.1" stroke="#9e9e9e" stroke-width="0.59" fill="none" stroke-linecap="round"/>
<path d="M554.4,541.0 L550.6,536.1" stroke="#969696" stroke-width="0.46" fill="none" stroke-linecap="round"/>
<path d="M568.4,549.2 L571.6,548.6" stroke="#5e5e5e" stroke-width="0.50" fill="none" stroke-linecap="round"/>
<path d="M562.2,541.8 L561.2,538.3" stroke="#d8d8d8" stroke-width="0.69" fill="none" stroke-linecap="round"/>
<path d="M552.0,548.3 L546.1,547.9" stroke="#a2a2a2" stroke-width="0.84" fill="none" stroke-linecap="round"/>
<path d="M562.7,539.9 L561.4,531.8" stroke="#d8d8d8" stroke-width="0.85" fill="none" stroke-linecap="round"/>
<path d="M572.8,551.2 L575.5,549.0" stroke="#5e5e5e" stroke-width="0.55" fill="none" stroke-linecap="round"/>
<path d="M570.5,550.6 L575.3,550.0" stroke="#d8d8d8" stroke-width="0.92" fill="none" stroke-linecap="round"/>
<path d="M559.7,543.1 L560.6,536.4" stroke="#fafafa" stroke-width="0.91" fill="none" stroke-linecap="round"/>
<path d="M551.6,550.3 L548.1,550.6" stroke="#fff" stroke-width="0.92" fill="none" stroke-linecap="round"/>
<path d="M555.3,547.3 L549.9,545.6" stroke="#aeaeae" stroke-width="0.73" fill="none" stroke-linecap="round"/>
<path d="M567.0,547.9 L571.6,542.3" stroke="#fff" stroke-width="0.47" fill="none" stroke-linecap="round"/>
<path d="M562.7,536.9 L566.6,533.5" stroke="#f0f0f0" stroke-width="0.81" fill="none" stroke-linecap="round"/>
<path d="M575.6,547.2 L580.0,549.1" stroke="#7c7c7c" stroke-width="0.83" fill="none" stroke-linecap="round"/>
<path d="M557.8,538.3 L554.6,534.3" stroke="#cccccc" stroke-width="0.87" fill="none" stroke-linecap="round"/>
<path d="M563.0,542.4 L567.0,536.0" stroke="#969696" stroke-width="0.60" fill="none" stroke-linecap="round"/>
<path d="M552.0,549.7 L546.6,548.9" stroke="#7c7c7c" stroke-width="0.70" fill="none" stroke-linecap="round"/>
<path d="M565.8,540.0 L566.4,537.0" stroke="#fff" stroke-width="0.94" fill="none" stroke-linecap="round"/>
<path d="M553.1,550.6 L546.0,549.6" stroke="#f0f0f0" stroke-width="0.93" fill="none" stroke-linecap="round"/>
<path d="M570.2,551.9 L573.8,551.6" stroke="#d8d8d8" stroke-width="0.92" fill="none" stroke-linecap="round"/>
<path d="M568.7,551.8 L573.6,549.6" stroke="#a2a2a2" stroke-width="0.51" fill="none" stroke-linecap="round"/>
<path d="M568.0,547.7 L571.9,546.3" stroke="#aeaeae" stroke-width="0.81" fill="none" stroke-linecap="round"/>
<path d="M551.5,545.1 L548.0,540.0" stroke="#e6e6e6" stroke-width="0.58" fill="none" stroke-linecap="round"/>
<path d="M551.2,547.2 L546.6,545.6" stroke="#cccccc" stroke-width="0.76" fill="none" stroke-linecap="round"/>
<path d="M562.6,539.8 L561.6,535.6" stroke="#cccccc" stroke-width="0.76" fill="none" stroke-linecap="round"/>
<path d="M572.2,549.1 L577.0,550.3" stroke="#aeaeae" stroke-width="0.75" fill="none" stroke-linecap="round"/>
<path d="M572.4,550.5 L575.9,547.9" stroke="#f0f0f0" stroke-width="0.57" fill="none" stroke-linecap="round"/>
<path d="M566.7,546.6 L571.8,541.6" stroke="#fff" stroke-width="0.80" fill="none" stroke-linecap="round"/>
<path d="M548.0,545.5 L545.1,543.6" stroke="#aeaeae" stroke-width="0.91" fill="none" stroke-linecap="round"/>
<path d="M569.9,553.4 L574.4,554.3" stroke="#fafafa" stroke-width="0.87" fill="none" stroke-linecap="round"/>
<path d="M567.4,548.7 L573.8,546.4" stroke="#f0f0f0" stroke-width="0.73" fill="none" stroke-linecap="round"/>
<path d="M552.9,549.8 L546.9,545.4" stroke="#f0f0f0" stroke-width="0.79" fill="none" stroke-linecap="round"/>
<path d="M564.2,541.0 L563.1,537.3" stroke="#bababa" stroke-width="0.68" fill="none" stroke-linecap="round"/>
<path d="M561.5,540.4 L562.8,537.5" stroke="#d8d8d8" stroke-width="0.55" fill="none" stroke-linecap="round"/>
<path d="M557.6,542.6 L555.7,535.2" stroke="#7c7c7c" stroke-width="0.71" fill="none" stroke-linecap="round"/>
<path d="M547.8,555.0 L542.7,553.8" stroke="#fafafa" stroke-width="0.92" fill="none" stroke-linecap="round"/>
<path d="M563.7,541.4 L566.3,537.3" stroke="#a2a2a2" stroke-width="0.91" fill="none" stroke-linecap="round"/>
<path d="M573.4,542.1 L579.0,541.5" stroke="#f0f0f0" stroke-width="0.72" fill="none" stroke-linecap="round"/>
<path d="M556.9,544.2 L553.8,541.4" stroke="#fff" stroke-width="0.62" fill="none" stroke-linecap="round"/>
<path d="M559.9,543.0 L559.8,537.0" stroke="#969696" stroke-width="0.59" fill="none" stroke-linecap="round"/>
<path d="M568.9,553.0 L574.0,552.3" stroke="#7c7c7c" stroke-width="0.64" fill="none" stroke-linecap="round"/>
<path d="M572.3,555.3 L576.2,559.5" stroke="#6e6e6e" stroke-width="0.51" fill="none" stroke-linecap="round"/>
<path d="M551.3,550.8 L546.0,548.8" stroke="#fafafa" stroke-width="0.64" fill="none" stroke-linecap="round"/>
<path d="M548.4,550.9 L545.0,550.6" stroke="#cccccc" stroke-width="0.73" fill="none" stroke-linecap="round"/>
<path d="M573.0,555.3 L576.1,556.7" stroke="#fff" stroke-width="0.93" fill="none" stroke-linecap="round"/>
<path d="M556.3,541.5 L555.3,533.5" stroke="#cccccc" stroke-width="0.76" fill="none" stroke-linecap="round"/>
<path d="M550.6,552.6 L544.9,552.5" stroke="#aeaeae" stroke-width="0.72" fill="none" stroke-linecap="round"/>
<path d="M560.1,538.8 L561.3,535.4" stroke="#6e6e6e" stroke-width="0.46" fill="none" stroke-linecap="round"/>
<path d="M554.4,547.2 L548.5,543.7" stroke="#f0f0f0" stroke-width="0.61" fill="none" stroke-linecap="round"/>
<path d="M555.9,539.3 L556.0,534.4" stroke="#969696" stroke-width="0.66" fill="none" stroke-linecap="round"/>
<path d="M560.1,542.4 L562.0,536.8" stroke="#9e9e9e" stroke-width="0.90" fill="none" stroke-linecap="round"/>
<path d="M551.7,549.5 L545.0,550.5" stroke="#bababa" stroke-width="0.68" fill="none" stroke-linecap="round"/>
<path d="M551.8,547.2 L548.4,545.9" stroke="#fafafa" stroke-width="0.66" fill="none" stroke-linecap="round"/>
<path d="M565.8,539.4 L569.0,535.6" stroke="#d8d8d8" stroke-width="0.95" fill="none" stroke-linecap="round"/>
<path d="M569.5,552.8 L572.7,555.0" stroke="#fff" stroke-width="0.70" fill="none" stroke-linecap="round"/>
<path d="M571.5,548.8 L577.1,548.4" stroke="#969696" stroke-width="0.77" fill="none" stroke-linecap="round"/>
<path d="M568.1,546.6 L575.8,544.1" stroke="#f0f0f0" stroke-width="0.79" fill="none" stroke-linecap="round"/>
<path d="M564.9,544.2 L564.5,540.6" stroke="#969696" stroke-width="0.72" fill="none" stroke-linecap="round"/>
<path d="M551.2,552.1 L547.5,551.5" stroke="#aeaeae" stroke-width="0.69" fill="none" stroke-linecap="round"/>
<path d="M555.2,542.4 L555.0,538.3" stroke="#fff" stroke-width="0.51" fill="none" stroke-linecap="round"/>
<path d="M573.6,546.2 L577.1,544.1" stroke="#a2a2a2" stroke-width="0.65" fill="none" stroke-linecap="round"/>
<path d="M549.4,548.7 L545.4,548.8" stroke="#fff" stroke-width="0.82" fill="none" stroke-linecap="round"/>
<path d="M569.9,551.8 L573.3,553.5" stroke="#7c7c7c" stroke-width="0.72" fill="none" stroke-linecap="round"/>
<path d="M557.4,538.4 L558.3,533.2" stroke="#6e6e6e" stroke-width="0.49" fill="none" stroke-linecap="round"/>
<path d="M554.1,548.1 L550.6,545.1" stroke="#9e9e9e" stroke-width="0.61" fill="none" stroke-linecap="round"/>
<path d="M571.7,550.2 L576.5,551.8" stroke="#aeaeae" stroke-width="0.80" fill="none" stroke-linecap="round"/>
<path d="M565.2,535.7 L565.8,531.3" stroke="#fff" stroke-width="0.95" fill="none" stroke-linecap="round"/>
<path d="M558.9,538.8 L558.5,535.7" stroke="#7c7c7c" stroke-width="0.63" fill="none" stroke-linecap="round"/>
<path d="M556.0,542.8 L552.2,539.4" stroke="#e6e6e6" stroke-width="0.63" fill="none" stroke-linecap="round"/>
<path d="M556.5,541.7 L553.0,539.2" stroke="#5e5e5e" stroke-width="0.89" fill="none" stroke-linecap="round"/>
<path d="M553.3,544.7 L549.4,540.5" stroke="#6e6e6e" stroke-width="0.78" fill="none" stroke-linecap="round"/>
<path d="M570.2,547.5 L574.1,543.1" stroke="#7c7c7c" stroke-width="0.59" fill="none" stroke-linecap="round"/>
<path d="M553.8,551.1 L547.5,552.4" stroke="#d8d8d8" stroke-width="0.77" fill="none" stroke-linecap="round"/>
<path d="M550.5,544.4 L547.5,540.2" stroke="#bababa" stroke-width="0.63" fill="none" stroke-linecap="round"/>
<path d="M568.2,548.5 L573.7,547.7" stroke="#7c7c7c" stroke-width="0.80" fill="none" stroke-linecap="round"/>
<path d="M573.5,551.5 L577.7,553.6" stroke="#fff" stroke-width="0.64" fill="none" stroke-linecap="round"/>
<path d="M550.1,551.4 L546.9,552.0" stroke="#6e6e6e" stroke-width="0.85" fill="none" stroke-linecap="round"/>
<path d="M558.6,544.0 L559.2,537.1" stroke="#bababa" stroke-width="0.79" fill="none" stroke-linecap="round"/>
<path d="M553.7,542.7 L552.8,538.0" stroke="#5e5e5e" stroke-width="0.60" fill="none" stroke-linecap="round"/>
<path d="M547.7,550.0 L543.7,552.2" stroke="#5e5e5e" stroke-width="0.46" fill="none" stroke-linecap="round"/>
<path d="M560.2,541.9 L559.2,538.0" stroke="#e6e6e6" stroke-width="0.57" fill="none" stroke-linecap="round"/>
<path d="M567.6,545.4 L569.7,542.0" stroke="#8a8a8a" stroke-width="0.91" fill="none" stroke-linecap="round"/>
<path d="M574.0,552.6 L577.0,554.9" stroke="#5e5e5e" stroke-width="0.89" fill="none" stroke-linecap="round"/>
<path d="M571.5,551.6 L577.4,551.3" stroke="#969696" stroke-width="0.65" fill="none" stroke-linecap="round"/>
<path d="M550.2,545.7 L547.3,542.1" stroke="#fff" stroke-width="0.59" fill="none" stroke-linecap="round"/>
<path d="M569.3,554.0 L572.2,554.7" stroke="#aeaeae" stroke-width="0.68" fill="none" stroke-linecap="round"/>
<path d="M549.1,543.3 L546.5,539.2" stroke="#8a8a8a" stroke-width="0.58" fill="none" stroke-linecap="round"/>
<path d="M572.5,549.5 L578.1,546.9" stroke="#cccccc" stroke-width="0.48" fill="none" stroke-linecap="round"/>
<path d="M563.1,543.8 L563.1,536.1" stroke="#8a8a8a" stroke-width="0.49" fill="none" stroke-linecap="round"/>
<path d="M554.8,546.6 L550.6,543.1" stroke="#9e9e9e" stroke-width="0.74" fill="none" stroke-linecap="round"/>
<path d="M572.8,548.9 L577.5,550.4" stroke="#7c7c7c" stroke-width="0.84" fill="none" stroke-linecap="round"/>
<path d="M558.8,542.7 L560.0,537.1" stroke="#a2a2a2" stroke-width="0.61" fill="none" stroke-linecap="round"/>
<path d="M555.5,537.1 L551.6,535.1" stroke="#7c7c7c" stroke-width="0.79" fill="none" stroke-linecap="round"/>
<path d="M550.8,550.8 L544.4,548.2" stroke="#fafafa" stroke-width="0.67" fill="none" stroke-linecap="round"/>
<path d="M571.8,549.5 L575.5,546.4" stroke="#fff" stroke-width="0.46" fill="none" stroke-linecap="round"/>
<path d="M569.2,554.1 L575.3,554.6" stroke="#bababa" stroke-width="0.92" fill="none" stroke-linecap="round"/>
<path d="M573.7,542.3 L576.2,536.5" stroke="#969696" stroke-width="0.55" fill="none" stroke-linecap="round"/>
<path d="M572.2,542.1 L576.1,540.8" stroke="#aeaeae" stroke-width="0.67" fill="none" stroke-linecap="round"/>
<path d="M556.2,541.8 L555.3,538.2" stroke="#8a8a8a" stroke-width="0.54" fill="none" stroke-linecap="round"/>
<path d="M556.2,539.6 L553.5,537.0" stroke="#8a8a8a" stroke-width="0.94" fill="none" stroke-linecap="round"/>
<path d="M558.4,541.9 L559.3,534.5" stroke="#8a8a8a" stroke-width="0.77" fill="none" stroke-linecap="round"/>
<path d="M570.3,545.7 L573.9,542.8" stroke="#6e6e6e" stroke-width="0.81" fill="none" stroke-linecap="round"/>
<path d="M566.2,539.9 L570.6,537.5" stroke="#cccccc" stroke-width="0.46" fill="none" stroke-linecap="round"/>
<path d="M553.5,541.7 L550.9,539.3" stroke="#cccccc" stroke-width="0.62" fill="none" stroke-linecap="round"/>
<path d="M552.5,543.1 L549.6,539.9" stroke="#a2a2a2" stroke-width="0.72" fill="none" stroke-linecap="round"/>
<path d="M556.6,544.7 L555.5,538.0" stroke="#cccccc" stroke-width="0.95" fill="none" stroke-linecap="round"/>
<path d="M570.5,541.9 L573.4,540.4" stroke="#fff" stroke-width="0.49" fill="none" stroke-linecap="round"/>
<path d="M549.8,543.9 L547.8,539.0" stroke="#aeaeae" stroke-width="0.58" fill="none" stroke-linecap="round"/>
<path d="M573.0,550.1 L577.2,549.9" stroke="#cccccc" stroke-width="0.73" fill="none" stroke-linecap="round"/>
<path d="M563.8,539.0 L566.5,536.0" stroke="#e6e6e6" stroke-width="0.52" fill="none" stroke-linecap="round"/>
<path d="M570.4,552.3 L573.7,553.6" stroke="#aeaeae" stroke-width="0.87" fill="none" stroke-linecap="round"/>
<path d="M553.8,548.8 L550.5,548.8" stroke="#f0f0f0" stroke-width="0.92" fill="none" stroke-linecap="round"/>
<path d="M567.8,541.5 L570.5,536.1" stroke="#e6e6e6" stroke-width="0.77" fill="none" stroke-linecap="round"/>
<path d="M569.2,546.3 L571.9,544.7" stroke="#7c7c7c" stroke-width="0.73" fill="none" stroke-linecap="round"/>
<path d="M552.3,548.6 L546.5,547.5" stroke="#fafafa" stroke-width="0.84" fill="none" stroke-linecap="round"/>
<path d="M569.3,544.0 L571.6,538.7" stroke="#aeaeae" stroke-width="0.66" fill="none" stroke-linecap="round"/>
<path d="M567.4,538.8 L570.0,533.4" stroke="#5e5e5e" stroke-width="0.87" fill="none" stroke-linecap="round"/>
<path d="M570.7,549.3 L576.8,550.2" stroke="#cccccc" stroke-width="0.62" fill="none" stroke-linecap="round"/>
<path d="M561.5,544.6 L561.0,537.1" stroke="#e6e6e6" stroke-width="0.90" fill="none" stroke-linecap="round"/>
<path d="M571.9,542.4 L575.8,540.0" stroke="#7c7c7c" stroke-width="0.57" fill="none" stroke-linecap="round"/>
<path d="M573.0,548.3 L576.6,547.1" stroke="#7c7c7c" stroke-width="0.71" fill="none" stroke-linecap="round"/>
<path d="M552.5,546.1 L548.0,545.7" stroke="#f0f0f0" stroke-width="0.82" fill="none" stroke-linecap="round"/>
<path d="M571.5,549.8 L576.7,546.8" stroke="#fafafa" stroke-width="0.82" fill="none" stroke-linecap="round"/>
<path d="M562.9,544.0 L562.6,536.9" stroke="#cccccc" stroke-width="0.74" fill="none" stroke-linecap="round"/>
<path d="M558.8,540.0 L556.6,537.4" stroke="#5e5e5e" stroke-width="0.90" fill="none" stroke-linecap="round"/>
<path d="M569.9,548.1 L574.2,543.5" stroke="#6e6e6e" stroke-width="0.68" fill="none" stroke-linecap="round"/>
<path d="M555.6,545.5 L552.4,539.3" stroke="#f0f0f0" stroke-width="0.55" fill="none" stroke-linecap="round"/>
<path d="M548.7,539.0 L547.9,534.4" stroke="#aeaeae" stroke-width="0.90" fill="none" stroke-linecap="round"/>
<path d="M549.5,554.6 L544.5,555.6" stroke="#969696" stroke-width="0.55" fill="none" stroke-linecap="round"/>
<path d="M568.4,550.7 L574.7,548.7" stroke="#f0f0f0" stroke-width="0.59" fill="none" stroke-linecap="round"/>
<path d="M557.8,541.8 L557.3,533.9" stroke="#bababa" stroke-width="0.49" fill="none" stroke-linecap="round"/>
<path d="M550.2,545.4 L545.9,545.0" stroke="#969696" stroke-width="0.70" fill="none" stroke-linecap="round"/>
<path d="M551.5,542.0 L546.4,540.3" stroke="#cccccc" stroke-width="0.56" fill="none" stroke-linecap="round"/>
<path d="M550.8,540.8 L548.5,536.9" stroke="#7c7c7c" stroke-width="0.68" fill="none" stroke-linecap="round"/>
<path d="M553.3,551.9 L546.1,554.6" stroke="#e6e6e6" stroke-width="0.59" fill="none" stroke-linecap="round"/>
<path d="M554.5,547.0 L551.7,543.5" stroke="#969696" stroke-width="0.54" fill="none" stroke-linecap="round"/>
<path d="M570.3,544.0 L574.5,543.4" stroke="#e6e6e6" stroke-width="0.68" fill="none" stroke-linecap="round"/>
<path d="M572.9,543.0 L574.7,538.9" stroke="#cccccc" stroke-width="0.84" fill="none" stroke-linecap="round"/>
<path d="M571.0,551.4 L574.1,550.3" stroke="#d8d8d8" stroke-width="0.87" fill="none" stroke-linecap="round"/>
<path d="M571.1,539.4 L575.1,537.7" stroke="#8a8a8a" stroke-width="0.51" fill="none" stroke-linecap="round"/>
<path d="M558.1,540.3 L558.3,535.9" stroke="#9e9e9e" stroke-width="0.57" fill="none" stroke-linecap="round"/>
<path d="M560.5,541.2 L557.6,536.1" stroke="#e6e6e6" stroke-width="0.94" fill="none" stroke-linecap="round"/>
<path d="M549.0,553.0 L545.5,552.8" stroke="#e6e6e6" stroke-width="0.70" fill="none" stroke-linecap="round"/>
<path d="M558.7,543.0 L554.7,537.0" stroke="#f0f0f0" stroke-width="0.54" fill="none" stroke-linecap="round"/>
<path d="M567.8,539.8 L568.0,533.1" stroke="#bababa" stroke-width="0.47" fill="none" stroke-linecap="round"/>
<path d="M553.0,542.3 L550.7,538.7" stroke="#7c7c7c" stroke-width="0.78" fill="none" stroke-linecap="round"/>
<path d="M561.2,543.1 L562.3,537.6" stroke="#e6e6e6" stroke-width="0.84" fill="none" stroke-linecap="round"/>
<path d="M551.9,552.4 L547.9,550.5" stroke="#6e6e6e" stroke-width="0.51" fill="none" stroke-linecap="round"/>
<path d="M567.7,547.0 L573.2,543.2" stroke="#6e6e6e" stroke-width="0.45" fill="none" stroke-linecap="round"/>
<path d="M558.3,544.5 L556.3,539.1" stroke="#f0f0f0" stroke-width="0.49" fill="none" stroke-linecap="round"/>
<path d="M547.7,554.0 L542.9,556.7" stroke="#a2a2a2" stroke-width="0.51" fill="none" stroke-linecap="round"/>
<path d="M568.3,550.0 L572.1,548.2" stroke="#f0f0f0" stroke-width="0.76" fill="none" stroke-linecap="round"/>
<path d="M550.4,553.4 L547.3,554.6" stroke="#9e9e9e" stroke-width="0.91" fill="none" stroke-linecap="round"/>
<path d="M569.5,550.6 L576.9,552.1" stroke="#969696" stroke-width="0.64" fill="none" stroke-linecap="round"/>
<path d="M569.1,547.1 L572.6,545.3" stroke="#8a8a8a" stroke-width="0.69" fill="none" stroke-linecap="round"/>
<path d="M555.9,538.9 L553.9,534.0" stroke="#fafafa" stroke-width="0.79" fill="none" stroke-linecap="round"/>
<path d="M570.0,549.8 L573.5,549.9" stroke="#aeaeae" stroke-width="0.92" fill="none" stroke-linecap="round"/>
<path d="M566.8,539.6 L569.7,534.8" stroke="#fafafa" stroke-width="0.81" fill="none" stroke-linecap="round"/>
<path d="M554.6,546.4 L548.2,542.0" stroke="#fff" stroke-width="0.57" fill="none" stroke-linecap="round"/>
<path d="M573.2,548.0 L575.8,546.8" stroke="#d8d8d8" stroke-width="0.89" fill="none" stroke-linecap="round"/>
<path d="M553.2,541.7 L550.7,539.5" stroke="#969696" stroke-width="0.69" fill="none" stroke-linecap="round"/>
<path d="M553.5,548.6 L549.6,547.4" stroke="#5e5e5e" stroke-width="0.72" fill="none" stroke-linecap="round"/>
<path d="M551.9,549.9 L545.6,547.5" stroke="#8a8a8a" stroke-width="0.89" fill="none" stroke-linecap="round"/>
<path d="M571.0,548.4 L574.5,547.4" stroke="#aeaeae" stroke-width="0.56" fill="none" stroke-linecap="round"/>
<path d="M554.7,545.5 L551.1,544.8" stroke="#fafafa" stroke-width="0.69" fill="none" stroke-linecap="round"/>
<path d="M548.8,555.0 L544.7,558.8" stroke="#d8d8d8" stroke-width="0.56" fill="none" stroke-linecap="round"/>
<path d="M571.9,538.9 L573.1,534.4" stroke="#fafafa" stroke-width="0.58" fill="none" stroke-linecap="round"/>
<path d="M570.0,547.4 L575.8,547.2" stroke="#a2a2a2" stroke-width="0.70" fill="none" stroke-linecap="round"/>
<path d="M553.6,545.0 L548.5,542.8" stroke="#fafafa" stroke-width="0.81" fill="none" stroke-linecap="round"/>
<path d="M562.1,536.7 L562.2,532.4" stroke="#a2a2a2" stroke-width="0.80" fill="none" stroke-linecap="round"/>
<path d="M562.3,544.7 L562.7,539.8" stroke="#7c7c7c" stroke-width="0.91" fill="none" stroke-linecap="round"/>
<path d="M550.1,542.4 L547.7,538.3" stroke="#f0f0f0" stroke-width="0.58" fill="none" stroke-linecap="round"/>
<path d="M549.3,554.3 L546.4,556.2" stroke="#fafafa" stroke-width="0.89" fill="none" stroke-linecap="round"/>
<path d="M565.9,543.3 L567.1,535.6" stroke="#9e9e9e" stroke-width="0.92" fill="none" stroke-linecap="round"/>
<path d="M571.9,545.0 L575.9,541.8" stroke="#a2a2a2" stroke-width="0.48" fill="none" stroke-linecap="round"/>
<path d="M559.0,537.7 L560.5,534.1" stroke="#fafafa" stroke-width="0.70" fill="none" stroke-linecap="round"/>
<path d="M550.8,540.1 L546.9,538.9" stroke="#969696" stroke-width="0.58" fill="none" stroke-linecap="round"/>
<path d="M547.7,544.2 L542.7,545.2" stroke="#cccccc" stroke-width="0.70" fill="none" stroke-linecap="round"/>
<path d="M567.8,540.9 L572.7,537.3" stroke="#fff" stroke-width="0.62" fill="none" stroke-linecap="round"/>
<path d="M555.2,542.9 L552.6,536.8" stroke="#fafafa" stroke-width="0.53" fill="none" stroke-linecap="round"/>
<path d="M552.5,548.1 L547.4,543.9" stroke="#a2a2a2" stroke-width="0.63" fill="none" stroke-linecap="round"/>
<path d="M551.7,542.9 L547.7,541.1" stroke="#aeaeae" stroke-width="0.80" fill="none" stroke-linecap="round"/>
<path d="M575.3,551.6 L579.7,553.7" stroke="#f0f0f0" stroke-width="0.80" fill="none" stroke-linecap="round"/>
<path d="M548.5,550.2 L543.6,551.7" stroke="#d8d8d8" stroke-width="0.66" fill="none" stroke-linecap="round"/>
<path d="M560.2,542.1 L560.9,535.4" stroke="#a2a2a2" stroke-width="0.81" fill="none" stroke-linecap="round"/>
<path d="M552.6,545.6 L549.7,541.7" stroke="#d8d8d8" stroke-width="0.73" fill="none" stroke-linecap="round"/>
<path d="M547.7,549.3 L544.5,547.2" stroke="#a2a2a2" stroke-width="0.85" fill="none" stroke-linecap="round"/>
<path d="M549.5,549.8 L545.2,550.9" stroke="#6e6e6e" stroke-width="0.69" fill="none" stroke-linecap="round"/>
<path d="M572.4,538.8 L573.9,534.4" stroke="#a2a2a2" stroke-width="0.77" fill="none" stroke-linecap="round"/>
<path d="M554.2,535.3 L554.5,531.8" stroke="#7c7c7c" stroke-width="0.89" fill="none" stroke-linecap="round"/>
<path d="M550.8,547.2 L544.5,545.0" stroke="#f0f0f0" stroke-width="0.46" fill="none" stroke-linecap="round"/>
<path d="M562.5,542.0 L564.7,537.9" stroke="#d8d8d8" stroke-width="0.77" fill="none" stroke-linecap="round"/>
<path d="M551.4,546.1 L548.4,543.9" stroke="#fafafa" stroke-width="0.80" fill="none" stroke-linecap="round"/>
<path d="M562.3,543.5 L561.3,539.5" stroke="#f0f0f0" stroke-width="0.90" fill="none" stroke-linecap="round"/>
<path d="M568.9,550.6 L576.0,548.2" stroke="#e6e6e6" stroke-width="0.52" fill="none" stroke-linecap="round"/>
<path d="M564.8,544.0 L566.7,538.9" stroke="#a2a2a2" stroke-width="0.73" fill="none" stroke-linecap="round"/>
<path d="M550.3,548.9 L546.1,550.4" stroke="#aeaeae" stroke-width="0.69" fill="none" stroke-linecap="round"/>
<path d="M571.7,555.0 L575.0,555.5" stroke="#fff" stroke-width="0.73" fill="none" stroke-linecap="round"/>
<path d="M563.2,541.1 L562.9,535.5" stroke="#969696" stroke-width="0.92" fill="none" stroke-linecap="round"/>
<path d="M572.1,549.4 L579.4,549.4" stroke="#8a8a8a" stroke-width="0.88" fill="none" stroke-linecap="round"/>
<path d="M572.0,552.8 L576.3,550.5" stroke="#cccccc" stroke-width="0.61" fill="none" stroke-linecap="round"/>
<path d="M561.3,543.7 L559.1,537.1" stroke="#cccccc" stroke-width="0.58" fill="none" stroke-linecap="round"/>
<path d="M550.5,544.4 L547.0,541.6" stroke="#fafafa" stroke-width="0.83" fill="none" stroke-linecap="round"/>
<path d="M571.7,554.5 L574.0,556.1" stroke="#a2a2a2" stroke-width="0.90" fill="none" stroke-linecap="round"/>
<path d="M564.4,544.8 L567.3,541.1" stroke="#cccccc" stroke-width="0.78" fill="none" stroke-linecap="round"/>
<path d="M571.7,547.1 L575.5,544.0" stroke="#f0f0f0" stroke-width="0.78" fill="none" stroke-linecap="round"/>
<path d="M563.8,543.8 L563.2,539.6" stroke="#8a8a8a" stroke-width="0.72" fill="none" stroke-linecap="round"/>
<path d="M565.8,545.7 L567.6,542.4" stroke="#bababa" stroke-width="0.46" fill="none" stroke-linecap="round"/>
<path d="M558.1,544.8 L557.1,537.0" stroke="#fff" stroke-width="0.55" fill="none" stroke-linecap="round"/>
<path d="M572.7,550.0 L576.4,552.2" stroke="#bababa" stroke-width="0.69" fill="none" stroke-linecap="round"/>
<path d="M572.5,552.6 L576.4,554.6" stroke="#7c7c7c" stroke-width="0.79" fill="none" stroke-linecap="round"/>
<path d="M568.8,552.6 L573.1,555.3" stroke="#8a8a8a" stroke-width="0.82" fill="none" stroke-linecap="round"/>
<path d="M565.3,545.5 L568.1,540.1" stroke="#5e5e5e" stroke-width="0.88" fill="none" stroke-linecap="round"/>
<path d="M566.5,541.1 L569.7,538.9" stroke="#9e9e9e" stroke-width="0.82" fill="none" stroke-linecap="round"/>
<path d="M557.7,538.6 L555.8,534.4" stroke="#cccccc" stroke-width="0.74" fill="none" stroke-linecap="round"/>
<path d="M561.5,541.5 L562.2,536.9" stroke="#e6e6e6" stroke-width="0.48" fill="none" stroke-linecap="round"/>
<path d="M554.7,543.7 L552.6,540.0" stroke="#969696" stroke-width="0.82" fill="none" stroke-linecap="round"/>
<path d="M572.5,554.9 L575.0,558.4" stroke="#5e5e5e" stroke-width="0.51" fill="none" stroke-linecap="round"/>
<path d="M546.8,545.8 L542.5,546.9" stroke="#7c7c7c" stroke-width="0.71" fill="none" stroke-linecap="round"/>
<path d="M571.2,554.7 L574.4,554.3" stroke="#fff" stroke-width="0.62" fill="none" stroke-linecap="round"/>
<path d="M552.5,547.4 L548.9,542.8" stroke="#969696" stroke-width="0.49" fill="none" stroke-linecap="round"/>
<path d="M563.3,540.4 L565.8,536.7" stroke="#d8d8d8" stroke-width="0.48" fill="none" stroke-linecap="round"/>
<path d="M568.4,550.4 L576.2,550.6" stroke="#8a8a8a" stroke-width="0.50" fill="none" stroke-linecap="round"/>
<path d="M549.5,553.6 L546.6,556.2" stroke="#8a8a8a" stroke-width="0.76" fill="none" stroke-linecap="round"/>
<path d="M550.9,553.6 L546.1,556.9" stroke="#fafafa" stroke-width="0.55" fill="none" stroke-linecap="round"/>
<path d="M567.9,538.5 L570.7,535.6" stroke="#bababa" stroke-width="0.64" fill="none" stroke-linecap="round"/>
<path d="M574.6,546.2 L579.7,545.3" stroke="#969696" stroke-width="0.80" fill="none" stroke-linecap="round"/>
<path d="M550.4,547.6 L545.3,547.9" stroke="#7c7c7c" stroke-width="0.58" fill="none" stroke-linecap="round"/>
<path d="M555.4,543.4 L552.1,542.1" stroke="#969696" stroke-width="0.82" fill="none" stroke-linecap="round"/>
<path d="M555.8,542.9 L554.5,539.4" stroke="#bababa" stroke-width="0.64" fill="none" stroke-linecap="round"/>
<path d="M564.2,544.5 L564.1,540.6" stroke="#cccccc" stroke-width="0.80" fill="none" stroke-linecap="round"/>
<path d="M552.8,546.5 L546.0,543.6" stroke="#d8d8d8" stroke-width="0.49" fill="none" stroke-linecap="round"/>
<path d="M566.5,542.8 L568.2,539.1" stroke="#969696" stroke-width="0.67" fill="none" stroke-linecap="round"/>
<path d="M552.4,552.3 L547.2,550.3" stroke="#a2a2a2" stroke-width="0.78" fill="none" stroke-linecap="round"/>
<path d="M554.0,553.6 L549.2,554.4" stroke="#d8d8d8" stroke-width="0.58" fill="none" stroke-linecap="round"/>
<path d="M557.1,539.3 L556.3,534.9" stroke="#cccccc" stroke-width="0.78" fill="none" stroke-linecap="round"/>
<path d="M558.8,540.0 L555.8,537.6" stroke="#e6e6e6" stroke-width="0.78" fill="none" stroke-linecap="round"/>
<path d="M551.0,536.8 L550.2,533.7" stroke="#5e5e5e" stroke-width="0.49" fill="none" stroke-linecap="round"/>
<path d="M550.7,548.2 L544.1,548.7" stroke="#969696" stroke-width="0.94" fill="none" stroke-linecap="round"/>
<path d="M572.3,554.9 L575.6,557.0" stroke="#6e6e6e" stroke-width="0.48" fill="none" stroke-linecap="round"/>
<path d="M559.2,540.2 L561.5,536.0" stroke="#969696" stroke-width="0.70" fill="none" stroke-linecap="round"/>
<path d="M568.2,549.2 L573.7,544.5" stroke="#fafafa" stroke-width="0.80" fill="none" stroke-linecap="round"/>
<path d="M573.4,545.0 L579.9,541.1" stroke="#f0f0f0" stroke-width="0.51" fill="none" stroke-linecap="round"/>
<path d="M559.6,540.4 L561.3,536.9" stroke="#6e6e6e" stroke-width="0.50" fill="none" stroke-linecap="round"/>
<path d="M556.0,537.2 L552.3,534.8" stroke="#cccccc" stroke-width="0.73" fill="none" stroke-linecap="round"/>
<path d="M550.8,552.2 L546.7,553.4" stroke="#aeaeae" stroke-width="0.84" fill="none" stroke-linecap="round"/>
<path d="M554.8,547.4 L551.4,545.2" stroke="#cccccc" stroke-width="0.50" fill="none" stroke-linecap="round"/>
<path d="M546.4,548.6 L540.7,550.0" stroke="#e6e6e6" stroke-width="0.71" fill="none" stroke-linecap="round"/>
<path d="M555.8,537.9 L553.7,533.7" stroke="#6e6e6e" stroke-width="0.56" fill="none" stroke-linecap="round"/>
<path d="M571.4,546.6 L574.9,543.5" stroke="#e6e6e6" stroke-width="0.46" fill="none" stroke-linecap="round"/>
<path d="M547.8,550.3 L545.1,547.9" stroke="#6e6e6e" stroke-width="0.64" fill="none" stroke-linecap="round"/>
<path d="M553.3,543.6 L548.6,539.3" stroke="#f0f0f0" stroke-width="0.69" fill="none" stroke-linecap="round"/>
<path d="M570.6,536.9 L573.1,533.0" stroke="#f0f0f0" stroke-width="0.50" fill="none" stroke-linecap="round"/>
<path d="M566.1,541.5 L565.8,537.0" stroke="#fff" stroke-width="0.69" fill="none" stroke-linecap="round"/>
<path d="M555.4,542.4 L555.3,538.8" stroke="#6e6e6e" stroke-width="0.53" fill="none" stroke-linecap="round"/>
<path d="M555.2,539.7 L554.5,535.0" stroke="#6e6e6e" stroke-width="0.61" fill="none" stroke-linecap="round"/>
<path d="M560.2,540.1 L557.1,536.1" stroke="#bababa" stroke-width="0.75" fill="none" stroke-linecap="round"/>
<path d="M551.0,550.9 L547.2,548.1" stroke="#9e9e9e" stroke-width="0.63" fill="none" stroke-linecap="round"/>
<path d="M552.1,542.3 L549.0,538.9" stroke="#cccccc" stroke-width="0.83" fill="none" stroke-linecap="round"/>
<path d="M555.7,543.9 L554.0,538.1" stroke="#bababa" stroke-width="0.77" fill="none" stroke-linecap="round"/>
<path d="M556.0,542.2 L553.9,539.4" stroke="#969696" stroke-width="0.87" fill="none" stroke-linecap="round"/>
<path d="M552.6,540.7 L550.5,536.3" stroke="#6e6e6e" stroke-width="0.95" fill="none" stroke-linecap="round"/>
<path d="M560.6,544.2 L559.8,540.6" stroke="#9e9e9e" stroke-width="0.46" fill="none" stroke-linecap="round"/>
<ellipse cx="560.8" cy="551.6" rx="10.2" ry="8.0" fill="#747474"/>
<ellipse cx="563.0" cy="554.4" rx="6.6" ry="4.6" fill="#505050"/>
<ellipse cx="554.6" cy="549.4" rx="2.6" ry="2.2" fill="#4a4a4a"/>
<circle cx="562.4" cy="544.1" r="0.64" fill="#666"/>
<circle cx="557.5" cy="553.8" r="0.44" fill="#bbb"/>
<circle cx="566.4" cy="550.9" r="0.47" fill="#bbb"/>
<circle cx="565.9" cy="554.6" r="0.46" fill="#bbb"/>
<circle cx="557.2" cy="555.5" r="0.82" fill="#444"/>
<circle cx="569.9" cy="549.6" r="0.67" fill="#bbb"/>
<circle cx="562.0" cy="558.4" r="0.45" fill="#555"/>
<circle cx="557.3" cy="546.2" r="0.48" fill="#444"/>
<circle cx="556.3" cy="550.4" r="0.87" fill="#a5a5a5"/>
<circle cx="554.8" cy="555.0" r="0.65" fill="#a5a5a5"/>
<circle cx="564.6" cy="550.1" r="0.64" fill="#bbb"/>
<circle cx="561.8" cy="557.3" r="0.69" fill="#bbb"/>
<circle cx="554.8" cy="549.4" r="0.73" fill="#555"/>
<circle cx="558.3" cy="556.5" r="0.59" fill="#666"/>
<circle cx="562.3" cy="557.1" r="0.79" fill="#8a8a8a"/>
<circle cx="553.8" cy="555.0" r="0.56" fill="#a5a5a5"/>
<circle cx="564.7" cy="547.6" r="0.58" fill="#8a8a8a"/>
<circle cx="559.0" cy="544.7" r="0.80" fill="#444"/>
<circle cx="555.9" cy="547.8" r="0.62" fill="#555"/>
<circle cx="563.2" cy="552.7" r="0.85" fill="#a5a5a5"/>
<circle cx="559.9" cy="551.6" r="0.49" fill="#555"/>
<circle cx="563.2" cy="554.6" r="0.82" fill="#3c3c3c"/>
<circle cx="562.2" cy="552.6" r="0.64" fill="#8a8a8a"/>
<circle cx="559.7" cy="559.1" r="0.80" fill="#8a8a8a"/>
<circle cx="555.2" cy="547.1" r="0.77" fill="#3c3c3c"/>
<circle cx="557.7" cy="546.5" r="0.69" fill="#555"/>
<circle cx="564.6" cy="549.7" r="0.76" fill="#bbb"/>
<circle cx="556.6" cy="557.4" r="0.89" fill="#666"/>
<circle cx="553.0" cy="549.6" r="0.67" fill="#555"/>
<circle cx="555.9" cy="548.6" r="0.68" fill="#8a8a8a"/>
<circle cx="556.1" cy="545.2" r="0.54" fill="#444"/>
<circle cx="556.4" cy="551.9" r="0.59" fill="#bbb"/>
<circle cx="567.2" cy="552.5" r="0.70" fill="#555"/>
<circle cx="561.7" cy="555.4" r="0.78" fill="#3c3c3c"/>
<circle cx="564.9" cy="553.2" r="0.53" fill="#666"/>
<circle cx="558.1" cy="556.3" r="0.64" fill="#555"/>
<circle cx="564.5" cy="549.4" r="0.87" fill="#555"/>
<circle cx="560.9" cy="552.8" r="0.84" fill="#8a8a8a"/>
<circle cx="552.3" cy="552.6" r="0.87" fill="#3c3c3c"/>
<circle cx="563.9" cy="545.1" r="0.45" fill="#444"/>
<circle cx="562.1" cy="545.9" r="0.55" fill="#8a8a8a"/>
<circle cx="564.1" cy="545.1" r="0.61" fill="#444"/>
<circle cx="569.2" cy="552.5" r="0.66" fill="#a5a5a5"/>
<circle cx="554.5" cy="552.2" r="0.71" fill="#8a8a8a"/>
<circle cx="554.7" cy="554.8" r="0.68" fill="#444"/>
<circle cx="570.3" cy="552.8" r="0.85" fill="#555"/>
<circle cx="555.9" cy="547.4" r="0.87" fill="#8a8a8a"/>
<circle cx="560.6" cy="553.2" r="0.69" fill="#666"/>
<circle cx="568.8" cy="548.9" r="0.44" fill="#555"/>
<circle cx="561.2" cy="559.0" r="0.45" fill="#444"/>
<circle cx="556.8" cy="548.7" r="0.61" fill="#444"/>
<circle cx="553.8" cy="546.9" r="0.66" fill="#3c3c3c"/>
<circle cx="562.4" cy="555.8" r="0.44" fill="#bbb"/>
<circle cx="558.2" cy="558.9" r="0.89" fill="#555"/>
<circle cx="567.5" cy="550.4" r="0.51" fill="#8a8a8a"/>
<circle cx="558.6" cy="558.0" r="0.53" fill="#555"/>
<circle cx="562.5" cy="552.2" r="0.66" fill="#8a8a8a"/>
<circle cx="557.8" cy="554.2" r="0.49" fill="#a5a5a5"/>
<circle cx="553.8" cy="548.0" r="0.51" fill="#a5a5a5"/>
<circle cx="564.4" cy="553.5" r="0.66" fill="#3c3c3c"/>
<circle cx="555.9" cy="557.7" r="0.56" fill="#555"/>
<circle cx="552.1" cy="552.0" r="0.76" fill="#666"/>
<circle cx="564.3" cy="556.3" r="0.45" fill="#3c3c3c"/>
<circle cx="564.5" cy="551.9" r="0.51" fill="#a5a5a5"/>
<circle cx="558.2" cy="549.6" r="0.90" fill="#444"/>
<circle cx="558.5" cy="546.1" r="0.74" fill="#bbb"/>
<circle cx="562.0" cy="558.7" r="0.64" fill="#444"/>
<circle cx="560.8" cy="549.9" r="0.61" fill="#444"/>
<circle cx="554.0" cy="551.7" r="0.87" fill="#555"/>
<circle cx="557.6" cy="558.5" r="0.80" fill="#555"/>
<circle cx="557.2" cy="544.7" r="0.47" fill="#555"/>
<circle cx="564.4" cy="557.8" r="0.84" fill="#666"/>
<circle cx="564.2" cy="549.7" r="0.46" fill="#666"/>
<circle cx="557.8" cy="544.8" r="0.56" fill="#8a8a8a"/>
<circle cx="562.4" cy="548.3" r="0.67" fill="#3c3c3c"/>
<circle cx="562.2" cy="555.9" r="0.53" fill="#3c3c3c"/>
<circle cx="552.6" cy="554.2" r="0.44" fill="#444"/>
<circle cx="557.0" cy="555.9" r="0.65" fill="#666"/>
<circle cx="554.0" cy="549.2" r="0.45" fill="#3c3c3c"/>
<circle cx="560.5" cy="557.9" r="0.63" fill="#3c3c3c"/>
<circle cx="562.9" cy="557.2" r="0.42" fill="#a5a5a5"/>
<circle cx="553.7" cy="551.3" r="0.41" fill="#666"/>
<circle cx="566.1" cy="550.2" r="0.54" fill="#444"/>
<circle cx="551.7" cy="550.3" r="0.51" fill="#bbb"/>
<circle cx="566.8" cy="551.8" r="0.43" fill="#666"/>
<path d="M555.2,547.5 L552.1,545.2" stroke="#666" stroke-width="0.7" fill="none" stroke-linecap="round"/>
<path d="M562.0,546.0 L562.6,542.6" stroke="#9c9c9c" stroke-width="0.7" fill="none" stroke-linecap="round"/>
<path d="M557.1,549.0 L553.5,546.2" stroke="#666" stroke-width="0.7" fill="none" stroke-linecap="round"/>
<path d="M559.6,546.4 L558.6,542.6" stroke="#9c9c9c" stroke-width="0.7" fill="none" stroke-linecap="round"/>
<path d="M566.4,549.7 L571.1,548.0" stroke="#666" stroke-width="0.7" fill="none" stroke-linecap="round"/>
<path d="M566.6,547.9 L569.4,546.0" stroke="#666" stroke-width="0.7" fill="none" stroke-linecap="round"/>
<path d="M562.1,545.4 L562.9,540.6" stroke="#9c9c9c" stroke-width="0.7" fill="none" stroke-linecap="round"/>
<path d="M556.9,547.5 L554.7,545.1" stroke="#9c9c9c" stroke-width="0.7" fill="none" stroke-linecap="round"/>
<path d="M558.3,548.2 L555.6,544.3" stroke="#9c9c9c" stroke-width="0.7" fill="none" stroke-linecap="round"/>
<path d="M560.6,547.5 L560.4,542.7" stroke="#666" stroke-width="0.7" fill="none" stroke-linecap="round"/>
<path d="M563.4,546.4 L565.3,542.2" stroke="#b4b4b4" stroke-width="0.7" fill="none" stroke-linecap="round"/>
<path d="M557.4,547.2 L554.6,543.6" stroke="#b4b4b4" stroke-width="0.7" fill="none" stroke-linecap="round"/>
<path d="M555.9,549.8 L551.4,548.1" stroke="#777" stroke-width="0.7" fill="none" stroke-linecap="round"/>
<path d="M563.6,545.6 L565.0,542.4" stroke="#b4b4b4" stroke-width="0.7" fill="none" stroke-linecap="round"/>
<path d="M556.0,550.0 L553.1,548.9" stroke="#666" stroke-width="0.7" fill="none" stroke-linecap="round"/>
<path d="M566.1,547.8 L569.0,545.6" stroke="#666" stroke-width="0.7" fill="none" stroke-linecap="round"/>
<path d="M556.1,549.3 L553.4,547.8" stroke="#777" stroke-width="0.7" fill="none" stroke-linecap="round"/>
<path d="M560.7,546.4 L560.6,543.0" stroke="#666" stroke-width="0.7" fill="none" stroke-linecap="round"/>
<path d="M561.0,545.2 L561.0,540.8" stroke="#b4b4b4" stroke-width="0.7" fill="none" stroke-linecap="round"/>
<path d="M566.2,547.1 L570.3,543.5" stroke="#8a8a8a" stroke-width="0.7" fill="none" stroke-linecap="round"/>
<path d="M565.6,547.5 L569.4,544.1" stroke="#8a8a8a" stroke-width="0.7" fill="none" stroke-linecap="round"/>
<path d="M555.9,548.9 L551.6,546.4" stroke="#777" stroke-width="0.7" fill="none" stroke-linecap="round"/>
<path d="M538.2,559.9 Q548,556.4 557.9,554.6 L558.4,557.0 Q548,559.4 538.2,559.9Z" fill="#4a4a4a"/>
<path d="M541.9,555.7 L543.0,555.2 L556.2,573.7 L548.7,573.7 L545.6,560.9Z" fill="#4d4d4d"/>
<path d="M557.9,558.6 L562.6,559.8 L573.6,573.7 L557.4,573.7 Q556.6,566 557.9,558.6Z" fill="#505050"/></g>
</svg>
</body></html>
